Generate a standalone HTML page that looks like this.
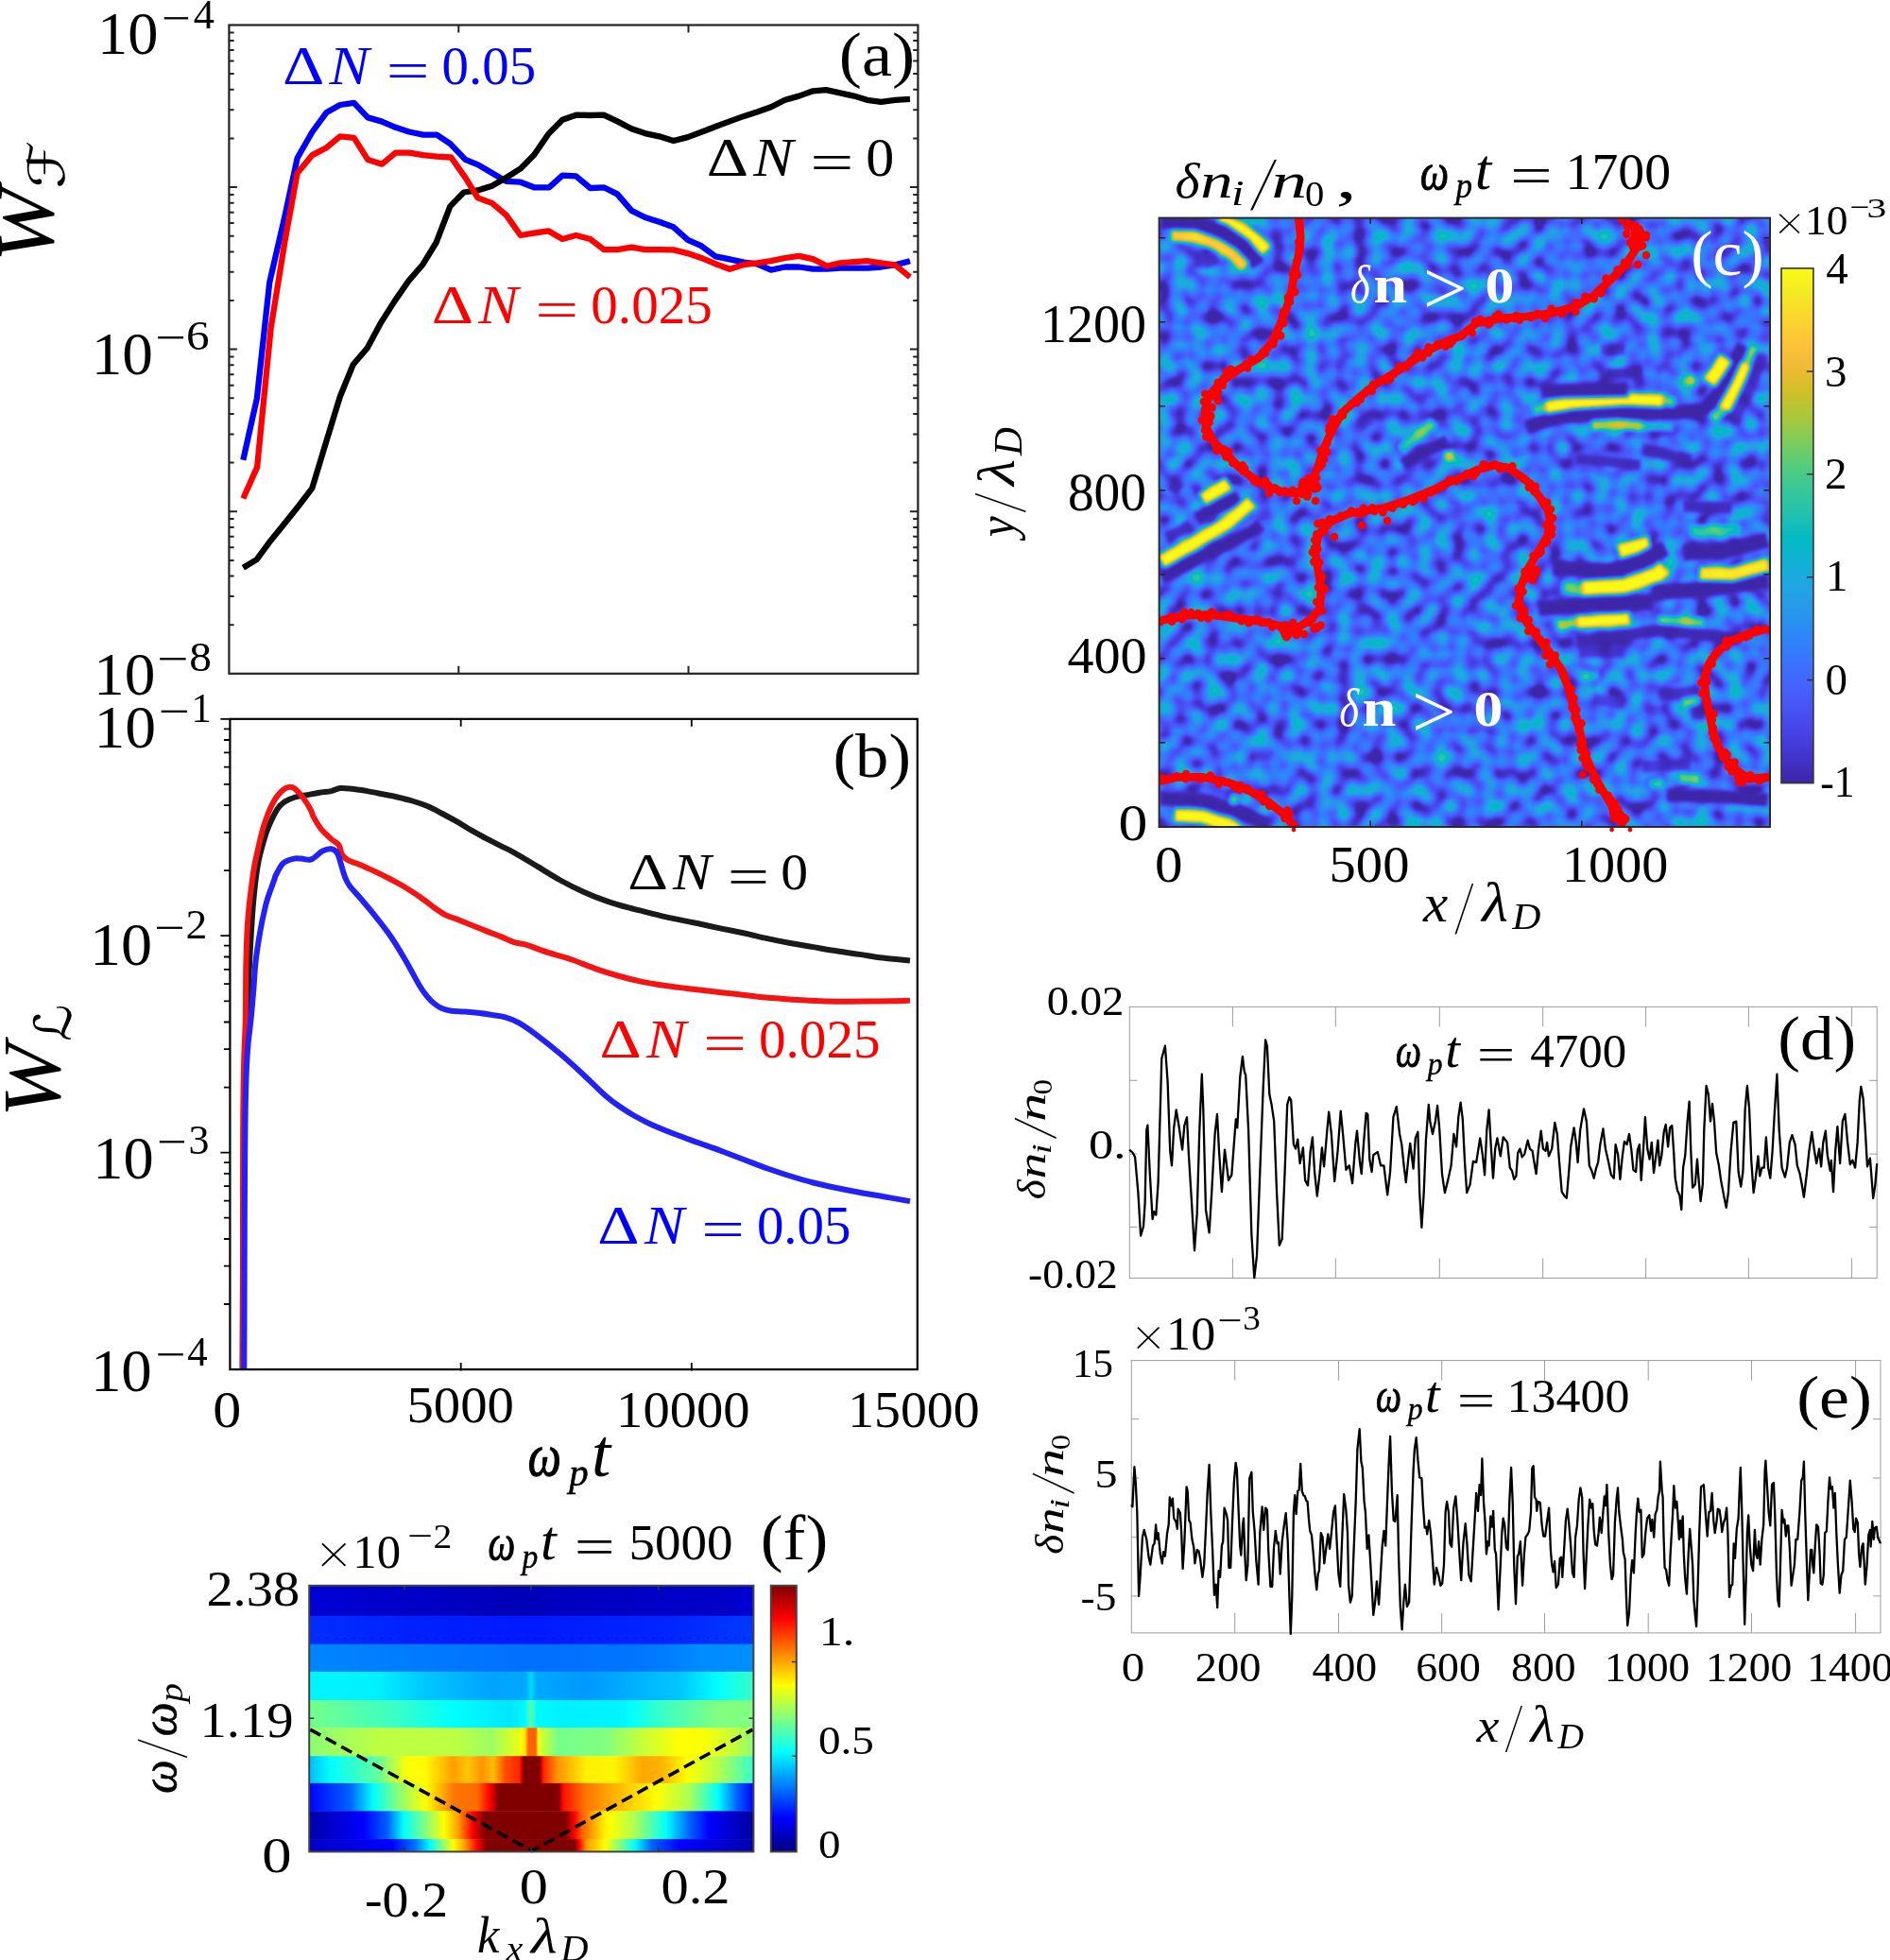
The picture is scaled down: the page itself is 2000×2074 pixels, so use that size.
<!DOCTYPE html>
<html><head><meta charset="utf-8"><title>Figure</title>
<style>
html,body{margin:0;padding:0;background:#fff}
svg{display:block}
text{font-family:"Liberation Serif","DejaVu Serif",serif;font-kerning:none}
.i{font-style:italic}.b{font-weight:bold}.bi{font-weight:bold;font-style:italic}
.dv{font-family:"DejaVu Sans","Liberation Sans",sans-serif}
.ln{fill:none;stroke-linejoin:round;stroke-linecap:butt}
</style></head><body>
<svg xmlns="http://www.w3.org/2000/svg" width="2000" height="2074" viewBox="0 0 2000 2074">
<rect width="2000" height="2074" fill="#fff"/>

<g id="panel-a">
<polyline class="ln" stroke-linejoin="miter" stroke="#0000ff" stroke-width="6.3" points="257.3,486.8 271.9,421.4 285.2,299.0 301.3,229.2 314.6,167.3 330.5,139.5 345.6,118.9 359.8,111.0 374.6,108.9 389.2,124.4 403.5,128.4 418.6,134.8 432.9,139.5 447.9,142.7 462.2,142.7 476.5,152.2 492.4,168.9 505.9,174.4 521.0,183.2 535.7,191.9 550.8,192.7 565.1,198.3 581.0,198.3 595.2,185.6 609.5,186.3 624.6,199.0 638.9,198.3 653.2,205.4 668.3,222.9 682.5,230.0 697.6,234.8 712.7,240.3 727.8,253.8 742.1,260.2 757.1,271.3 772.2,274.4 787.3,277.6 801.1,279.4 815.9,285.7 830.7,282.5 845.5,282.5 860.3,284.7 875.1,284.7 888.9,283.6 903.7,283.6 918.5,283.6 932.3,282.5 947.1,280.4 963.0,276.2"/>
<polyline class="ln" stroke-linejoin="miter" stroke="#000" stroke-width="6.3" points="257.3,600.8 271.6,592.1 286.3,572.2 301.1,554.0 315.7,535.7 330.3,516.7 344.9,468.3 359.8,419.8 373.7,385.7 388.7,368.3 403.3,341.1 417.9,318.1 432.5,297.1 447.1,280.3 461.7,256.5 476.3,218.4 490.8,203.5 505.4,201.4 520.6,196.7 535.7,188.0 550.8,178.4 565.1,164.1 580.2,141.9 595.2,126.8 610.3,121.6 624.0,122.0 638.9,121.6 653.2,128.4 668.3,136.3 682.5,141.1 697.6,144.3 712.7,149.0 727.8,145.1 742.9,139.5 757.1,134.0 772.2,128.4 787.3,122.9 801.1,118.5 815.9,113.2 830.7,105.8 845.5,101.6 860.3,96.3 874.1,95.2 888.9,98.4 903.7,101.6 917.5,105.8 932.3,107.9 947.1,105.8 963.0,104.8"/>
<polyline class="ln" stroke-linejoin="miter" stroke="#ff0000" stroke-width="6.3" points="257.3,527.5 272.1,494.4 286.7,346.7 301.3,256.2 314.6,183.2 330.5,164.1 345.6,156.2 359.8,144.3 374.6,145.9 389.2,168.9 404.3,173.7 418.6,161.7 432.9,161.7 447.9,164.1 462.2,165.7 477.3,166.5 492.4,187.9 505.6,209.4 520.6,214.9 535.7,227.6 550.8,249.0 565.1,246.7 580.2,244.3 595.2,253.0 609.5,249.0 624.6,253.0 638.9,264.1 653.2,264.1 668.3,261.7 682.5,264.1 697.6,264.1 712.7,264.4 727.8,268.1 742.1,272.9 757.1,279.2 772.2,284.8 787.3,280.0 801.1,278.3 815.9,276.2 830.7,273.0 845.5,270.9 860.3,274.1 875.1,281.5 888.9,278.3 903.7,277.2 917.5,276.2 932.3,278.3 947.1,280.4 963.0,293.1"/>
<path d="M242.4 661.2h5.2M971.4 661.2h-5.2M242.4 630.9h5.2M971.4 630.9h-5.2M242.4 609.5h5.2M971.4 609.5h-5.2M242.4 592.9h5.2M971.4 592.9h-5.2M242.4 579.3h5.2M971.4 579.3h-5.2M242.4 567.8h5.2M971.4 567.8h-5.2M242.4 557.9h5.2M971.4 557.9h-5.2M242.4 549.1h5.2M971.4 549.1h-5.2M242.4 541.2h8.5M971.4 541.2h-8.5M242.4 489.6h5.2M971.4 489.6h-5.2M242.4 459.4h5.2M971.4 459.4h-5.2M242.4 437.9h5.2M971.4 437.9h-5.2M242.4 421.3h5.2M971.4 421.3h-5.2M242.4 407.7h5.2M971.4 407.7h-5.2M242.4 396.2h5.2M971.4 396.2h-5.2M242.4 386.3h5.2M971.4 386.3h-5.2M242.4 377.5h5.2M971.4 377.5h-5.2M242.4 369.6h8.5M971.4 369.6h-8.5M242.4 318.0h5.2M971.4 318.0h-5.2M242.4 287.8h5.2M971.4 287.8h-5.2M242.4 266.4h5.2M971.4 266.4h-5.2M242.4 249.7h5.2M971.4 249.7h-5.2M242.4 236.1h5.2M971.4 236.1h-5.2M242.4 224.7h5.2M971.4 224.7h-5.2M242.4 214.7h5.2M971.4 214.7h-5.2M242.4 205.9h5.2M971.4 205.9h-5.2M242.4 198.1h8.5M971.4 198.1h-8.5M242.4 146.4h5.2M971.4 146.4h-5.2M242.4 116.2h5.2M971.4 116.2h-5.2M242.4 94.8h5.2M971.4 94.8h-5.2M242.4 78.1h5.2M971.4 78.1h-5.2M242.4 64.6h5.2M971.4 64.6h-5.2M242.4 53.1h5.2M971.4 53.1h-5.2M242.4 43.1h5.2M971.4 43.1h-5.2M242.4 34.4h5.2M971.4 34.4h-5.2M485.3 26.5v8M485.3 712.8v-8M728.5 26.5v8M728.5 712.8v-8" stroke="#222" stroke-width="2" fill="none"/>
<rect x="242.4" y="26.5" width="729.0" height="686.3" fill="none" stroke="#222" stroke-width="2.2"/>
</g>
<g id="panel-b">
<clipPath id="cb"><rect x="243.4" y="760.8" width="727.4" height="688.3"/></clipPath>
<g clip-path="url(#cb)">
<path class="ln" stroke="#1a1a1a" stroke-width="6" d="M256.5 1449.0C256.6 1424.2 256.9 1349.8 257.2 1300.0C257.5 1250.2 257.8 1186.7 258.5 1150.0C259.2 1113.3 260.8 1102.0 261.7 1080.0C262.6 1058.0 263.0 1039.0 264.1 1018.1C265.2 997.2 266.6 971.8 268.1 954.6C269.6 937.4 271.0 925.8 272.9 914.9C274.8 904.0 277.3 896.1 279.2 889.5C281.1 882.9 281.6 880.8 284.0 875.2C286.4 869.7 290.6 860.7 293.5 856.2C296.4 851.7 298.2 850.4 301.4 848.3C304.6 846.2 308.5 844.7 312.5 843.5C316.5 842.3 321.0 841.9 325.2 841.1C329.4 840.3 333.7 839.4 337.9 838.7C342.1 838.0 346.9 837.9 350.6 837.1C354.3 836.3 356.5 834.4 360.2 834.0C363.9 833.6 368.1 834.3 372.9 834.8C377.6 835.3 383.4 836.2 388.7 837.1C394.0 838.0 399.3 839.2 404.6 840.3C409.9 841.4 415.2 842.3 420.5 843.5C425.8 844.7 431.0 845.9 436.3 847.5C441.6 849.1 446.9 850.8 452.2 853.0C457.5 855.2 462.8 858.2 468.1 861.0C473.4 863.8 478.7 866.7 484.0 869.7C489.3 872.7 494.5 876.2 499.8 879.2C505.1 882.2 510.7 885.2 515.7 887.9C520.7 890.5 525.2 892.7 530.0 895.1C534.8 897.5 537.8 898.7 544.3 902.3C550.8 905.9 560.6 912.0 568.7 916.9C576.8 921.8 584.9 927.0 593.0 931.5C601.1 936.0 609.3 940.1 617.4 943.7C625.5 947.4 633.6 950.6 641.7 953.4C649.8 956.2 657.9 958.5 666.0 960.7C674.1 962.9 682.3 964.8 690.4 966.8C698.5 968.8 706.6 970.6 714.7 972.4C722.8 974.1 730.9 975.6 739.0 977.3C747.1 979.0 755.3 980.9 763.4 982.6C771.5 984.3 779.6 985.8 787.7 987.5C795.8 989.2 804.0 991.4 812.1 993.1C820.2 994.9 828.3 996.5 836.4 998.0C844.5 999.5 852.6 1000.7 860.7 1002.1C868.8 1003.5 877.0 1005.0 885.1 1006.3C893.2 1007.6 901.3 1008.7 909.4 1009.9C917.5 1011.1 924.9 1012.5 933.8 1013.6C942.7 1014.7 958.1 1015.9 963.0 1016.4"/>
<path class="ln" stroke="#f51414" stroke-width="6" d="M257.1 1449.0C257.1 1410.7 257.0 1268.8 257.1 1219.0C257.2 1169.2 257.4 1168.3 257.6 1150.0C257.9 1131.7 258.2 1120.7 258.6 1109.0C259.0 1097.3 259.5 1095.2 259.8 1080.0C260.1 1064.8 259.9 1036.3 260.4 1018.1C260.8 999.9 261.2 986.4 262.5 970.5C263.8 954.6 266.4 934.8 268.1 922.9C269.8 911.0 271.0 907.2 272.9 899.0C274.8 890.8 276.6 881.9 279.2 873.7C281.8 865.5 285.3 856.1 288.7 849.8C292.1 843.4 296.4 838.4 299.8 835.6C303.2 832.8 306.2 832.2 309.4 833.2C312.6 834.2 315.7 838.1 318.9 841.9C322.1 845.7 326.3 852.5 328.4 856.2C330.5 859.9 329.8 860.7 331.6 864.1C333.5 867.5 336.3 872.8 339.5 876.8C342.7 880.8 347.4 885.0 350.6 887.9C353.8 890.8 356.8 891.6 358.6 894.3C360.5 896.9 360.1 901.1 361.7 903.8C363.3 906.4 364.9 908.4 368.1 910.2C371.3 912.1 376.0 912.9 380.8 914.9C385.6 916.9 391.4 919.6 396.7 922.1C402.0 924.6 407.2 927.2 412.5 930.0C417.8 932.8 423.1 935.5 428.4 938.7C433.7 941.9 439.0 945.3 444.3 949.0C449.6 952.7 455.7 957.8 460.2 961.0C464.7 964.2 467.3 966.1 471.3 968.1C475.3 970.1 479.2 971.0 484.0 972.9C488.8 974.8 494.5 977.1 499.8 979.2C505.1 981.3 510.7 983.6 515.7 985.6C520.7 987.6 525.2 989.2 530.0 991.1C534.8 993.0 539.9 995.8 544.3 997.2C548.7 998.6 550.4 997.9 556.5 999.7C562.6 1001.5 572.7 1005.6 580.8 1008.2C588.9 1010.8 597.1 1012.7 605.2 1015.5C613.3 1018.3 621.4 1022.0 629.5 1024.8C637.6 1027.6 645.8 1030.2 653.9 1032.5C662.0 1034.8 670.1 1036.9 678.2 1038.6C686.3 1040.3 694.4 1041.6 702.5 1042.8C710.6 1044.0 718.8 1044.9 726.9 1045.9C735.0 1046.9 743.1 1047.9 751.2 1048.8C759.3 1049.7 767.5 1050.6 775.6 1051.5C783.7 1052.4 791.8 1053.6 799.9 1054.4C808.0 1055.2 816.1 1055.8 824.2 1056.4C832.3 1057.1 840.5 1057.8 848.6 1058.3C856.7 1058.8 864.8 1059.3 872.9 1059.6C881.0 1059.8 889.2 1059.8 897.3 1059.8C905.4 1059.8 913.5 1059.7 921.6 1059.6C929.7 1059.5 939.0 1059.4 945.9 1059.3C952.8 1059.2 960.1 1058.9 963.0 1058.8"/>
<path class="ln" stroke="#2222f8" stroke-width="6" d="M258.3 1449.0C258.4 1424.2 258.7 1338.3 258.8 1300.0C258.9 1261.7 259.0 1244.0 259.2 1219.0C259.4 1194.0 259.7 1168.3 260.2 1150.0C260.7 1131.7 261.3 1120.7 262.2 1109.0C263.1 1097.3 264.4 1089.9 265.4 1080.0C266.4 1070.1 267.2 1060.1 268.1 1049.8C269.0 1039.5 269.3 1028.7 270.5 1018.1C271.7 1007.5 273.5 996.1 275.2 986.3C276.9 976.5 279.3 965.7 280.8 959.4C282.3 953.1 282.4 953.1 284.0 948.3C285.6 943.5 289.0 934.5 290.3 930.8C291.6 927.1 290.3 928.9 291.9 926.0C293.5 923.1 296.6 916.2 299.8 913.3C303.0 910.4 307.8 909.4 311.0 908.6C314.2 907.8 315.9 908.5 318.9 908.6C321.9 908.7 325.5 910.7 329.2 909.4C332.9 908.1 337.5 902.5 341.1 900.6C344.7 898.8 348.0 897.9 350.6 898.3C353.2 898.7 355.3 900.2 357.0 903.0C358.7 905.8 359.7 910.8 361.0 914.9C362.3 919.0 363.4 923.9 364.9 927.6C366.3 931.3 367.0 933.4 369.7 937.1C372.4 940.8 376.3 944.5 380.8 949.8C385.3 955.1 391.4 962.3 396.7 968.9C402.0 975.5 407.2 981.8 412.5 989.5C417.8 997.2 423.1 1005.9 428.4 1014.9C433.7 1023.9 440.3 1036.9 444.3 1043.5C448.3 1050.1 449.6 1051.4 452.2 1054.6C454.8 1057.8 457.5 1060.4 460.2 1062.5C462.9 1064.6 465.2 1066.1 468.1 1067.3C471.0 1068.5 473.6 1069.2 477.6 1069.7C481.6 1070.2 486.9 1070.1 491.9 1070.5C496.9 1070.9 503.1 1071.5 507.8 1072.1C512.5 1072.7 515.5 1073.2 520.0 1073.9C524.5 1074.6 529.7 1074.9 534.6 1076.3C539.5 1077.7 543.5 1079.2 549.2 1082.4C554.9 1085.7 561.4 1090.3 568.7 1095.8C576.0 1101.3 584.9 1108.4 593.0 1115.3C601.1 1122.2 609.3 1129.7 617.4 1137.2C625.5 1144.7 635.2 1154.6 641.7 1160.3C648.2 1166.0 651.4 1167.9 656.3 1171.3C661.2 1174.7 665.2 1177.3 670.9 1180.5C676.6 1183.7 683.1 1187.2 690.4 1190.5C697.7 1193.8 706.6 1197.2 714.7 1200.3C722.8 1203.4 730.9 1206.3 739.0 1209.3C747.1 1212.2 755.3 1215.0 763.4 1218.0C771.5 1221.0 779.6 1224.1 787.7 1227.2C795.8 1230.3 804.0 1233.6 812.1 1236.5C820.2 1239.4 828.3 1242.0 836.4 1244.5C844.5 1247.0 852.6 1249.4 860.7 1251.5C868.8 1253.6 877.0 1255.3 885.1 1257.0C893.2 1258.7 901.3 1260.3 909.4 1261.8C917.5 1263.3 924.9 1264.5 933.8 1266.0C942.7 1267.5 958.1 1270.2 963.0 1271.1"/>
</g>
<path d="M243.4 1380.0h-6.5M243.4 1339.6h-6.5M243.4 1311.0h-6.5M243.4 1288.7h-6.5M243.4 1270.6h-6.5M243.4 1255.2h-6.5M243.4 1241.9h-6.5M243.4 1230.2h-6.5M243.4 1219.7h-10M243.4 1150.6h-6.5M243.4 1110.2h-6.5M243.4 1081.5h-6.5M243.4 1059.3h-6.5M243.4 1041.1h-6.5M243.4 1025.8h-6.5M243.4 1012.5h-6.5M243.4 1000.7h-6.5M243.4 990.2h-10M243.4 921.2h-6.5M243.4 880.8h-6.5M243.4 852.1h-6.5M243.4 829.9h-6.5M243.4 811.7h-6.5M243.4 796.3h-6.5M243.4 783.0h-6.5M243.4 771.3h-6.5M243.4 760.8h-10M487.7 760.8v8M487.7 1450.6v-8.5M731.8 760.8v8M731.8 1450.6v-8.5" stroke="#000" stroke-width="1.8" fill="none"/>
<rect x="243.4" y="760.8" width="727.4" height="688.3" fill="none" stroke="#000" stroke-width="2.2"/>
</g>
<defs>
<filter id="par" x="1226.6" y="230.6" width="646.4" height="644.4" filterUnits="userSpaceOnUse" color-interpolation-filters="sRGB">
<feGaussianBlur in="SourceGraphic" stdDeviation="1.9" result="src"/>
<feTurbulence type="fractalNoise" baseFrequency="0.058" numOctaves="1" seed="11" result="n"/>
<feColorMatrix in="n" type="matrix" values="0.98 0 0 0 -0.27 0.98 0 0 0 -0.27 0.98 0 0 0 -0.27 0 0 0 0 1" result="ng"/>
<feComposite in="src" in2="ng" operator="over" result="sum"/>
<feComponentTransfer in="sum">
<feFuncR type="table" tableValues="0.242 0.250 0.258 0.265 0.271 0.275 0.278 0.280 0.281 0.281 0.280 0.276 0.270 0.260 0.244 0.221 0.196 0.183 0.179 0.176 0.169 0.154 0.146 0.138 0.125 0.111 0.095 0.069 0.030 0.004 0.007 0.043 0.096 0.141 0.172 0.194 0.216 0.247 0.291 0.341 0.391 0.446 0.504 0.562 0.617 0.672 0.724 0.774 0.820 0.863 0.903 0.939 0.973 0.996 0.997 0.995 0.989 0.979 0.968 0.961 0.960 0.963 0.969 0.977"/>
<feFuncG type="table" tableValues="0.150 0.165 0.182 0.198 0.215 0.234 0.256 0.278 0.301 0.323 0.345 0.367 0.389 0.412 0.436 0.460 0.485 0.507 0.529 0.550 0.570 0.590 0.609 0.628 0.646 0.663 0.680 0.695 0.708 0.720 0.731 0.741 0.750 0.758 0.767 0.776 0.784 0.792 0.797 0.801 0.803 0.802 0.799 0.794 0.788 0.779 0.770 0.760 0.750 0.741 0.733 0.729 0.730 0.743 0.766 0.789 0.814 0.839 0.864 0.889 0.913 0.937 0.961 0.984"/>
<feFuncB type="table" tableValues="0.660 0.708 0.751 0.795 0.836 0.871 0.899 0.922 0.941 0.958 0.972 0.983 0.991 0.995 0.999 0.997 0.989 0.980 0.968 0.952 0.936 0.922 0.908 0.897 0.888 0.876 0.860 0.839 0.816 0.792 0.766 0.739 0.712 0.684 0.655 0.625 0.592 0.557 0.519 0.479 0.435 0.391 0.348 0.304 0.261 0.223 0.191 0.165 0.153 0.160 0.177 0.210 0.239 0.237 0.220 0.203 0.189 0.177 0.164 0.154 0.142 0.127 0.106 0.081"/>
</feComponentTransfer></filter>
<linearGradient id="cbc" x1="0" y1="1" x2="0" y2="0">
<stop offset="0.0000" stop-color="#3e26a8"/>
<stop offset="0.0476" stop-color="#4332cb"/>
<stop offset="0.0952" stop-color="#4741e5"/>
<stop offset="0.1429" stop-color="#4852f4"/>
<stop offset="0.1905" stop-color="#4563fd"/>
<stop offset="0.2381" stop-color="#3875fe"/>
<stop offset="0.2857" stop-color="#2e87f7"/>
<stop offset="0.3333" stop-color="#2797eb"/>
<stop offset="0.3810" stop-color="#20a5e3"/>
<stop offset="0.4286" stop-color="#12b1d6"/>
<stop offset="0.4762" stop-color="#02bac3"/>
<stop offset="0.5238" stop-color="#24c1ae"/>
<stop offset="0.5714" stop-color="#37c897"/>
<stop offset="0.6190" stop-color="#57cc7a"/>
<stop offset="0.6667" stop-color="#81cc59"/>
<stop offset="0.7143" stop-color="#abc739"/>
<stop offset="0.7619" stop-color="#d1bf27"/>
<stop offset="0.8095" stop-color="#f0ba36"/>
<stop offset="0.8571" stop-color="#fec338"/>
<stop offset="0.9048" stop-color="#fad62d"/>
<stop offset="0.9524" stop-color="#f5e924"/>
<stop offset="1.0000" stop-color="#f9fb15"/>
<stop offset="1" stop-color="#f9fb15"/>
</linearGradient>
<clipPath id="cc"><rect x="1226.6" y="230.6" width="646.4" height="644.4"/></clipPath>
</defs>
<g id="panel-c">
<g filter="url(#par)">
<polyline class="ln" stroke-linecap="round" stroke="#fff" stroke-width="13.2" opacity="1" points="1289.8,232.0 1310.8,240.7 1328.3,252.9 1340.5,265.2"/>
<polyline class="ln" stroke-linecap="round" stroke="#000" stroke-width="16.2" opacity="1" points="1227.0,234.6 1263.7,235.5 1293.3,244.2 1316.0,259.9 1331.8,280.9"/>
<polyline class="ln" stroke-linecap="round" stroke="#fff" stroke-width="12.2" opacity="0.85" points="1239.2,249.4 1263.7,250.3 1286.4,258.2 1303.8,268.7 1317.8,282.6"/>
<polyline class="ln" stroke-linecap="round" stroke="#000" stroke-width="14.2" opacity="0.8" points="1263.7,275.6 1277.6,277.4 1289.8,272.1"/>
<polyline class="ln" stroke-linecap="round" stroke="#000" stroke-width="15.2" opacity="1" points="1483.7,492.2 1508.1,477.3 1532.6,466.8"/>
<polyline class="ln" stroke-linecap="round" stroke="#fff" stroke-width="10.2" opacity="0.5" points="1481.9,476.4 1502.9,459.0 1516.8,446.8"/>
<polyline class="ln" stroke-linecap="round" stroke="#fff" stroke-width="10.2" opacity="0.75" points="1528.2,483.1 1538.7,481.7"/>
<polyline class="ln" stroke-linecap="round" stroke="#000" stroke-width="12.2" opacity="0.7" points="1438.3,450.2 1452.2,443.3"/>
<polyline class="ln" stroke-linecap="round" stroke="#fff" stroke-width="14.2" opacity="1" points="1272.4,528.8 1286.4,520.1 1300.3,511.4"/>
<polyline class="ln" stroke-linecap="round" stroke="#000" stroke-width="16.2" opacity="1" points="1265.4,549.8 1289.8,535.8 1312.5,525.3"/>
<polyline class="ln" stroke-linecap="round" stroke="#fff" stroke-width="14.2" opacity="1" points="1228.7,594.5 1263.7,574.4 1298.6,553.5 1324.8,530.8"/>
<polyline class="ln" stroke-linecap="round" stroke="#000" stroke-width="15.2" opacity="1" points="1228.7,611.1 1272.4,588.4 1324.8,562.2 1335.2,555.2"/>
<polyline class="ln" stroke-linecap="round" stroke="#000" stroke-width="13.2" opacity="0.9" points="1234.0,569.2 1247.9,562.2 1260.2,555.2"/>
<polyline class="ln" stroke-linecap="round" stroke="#000" stroke-width="14.2" opacity="0.9" points="1237.5,511.4 1249.7,518.3"/>
<polyline class="ln" stroke-linecap="round" stroke="#000" stroke-width="16.2" opacity="1" points="1227.0,845.1 1272.4,846.8 1307.3,857.3 1342.2,873.0"/>
<polyline class="ln" stroke-linecap="round" stroke="#fff" stroke-width="14.2" opacity="1" points="1242.7,862.6 1272.4,864.3 1298.6,873.0 1310.8,880.0"/>
<polyline class="ln" stroke-linecap="round" stroke="#fff" stroke-width="10.2" opacity="0.6" points="1302.1,845.1 1309.1,846.8"/>
<polyline class="ln" stroke-linecap="round" stroke="#000" stroke-width="16.2" opacity="1" points="1614.8,452.0 1649.8,441.5 1702.2,437.2 1772.0,437.2 1803.4,432.8 1817.4,417.1 1831.4,390.9 1845.3,364.7"/>
<polyline class="ln" stroke-linecap="round" stroke="#fff" stroke-width="13.2" opacity="1" points="1635.8,431.0 1667.2,425.8 1719.6,422.3 1759.8,424.1"/>
<polyline class="ln" stroke-linecap="round" stroke="#fff" stroke-width="10.2" opacity="0.5" points="1621.8,434.5 1635.8,431.0"/>
<polyline class="ln" stroke-linecap="round" stroke="#fff" stroke-width="10.2" opacity="0.5" points="1759.8,424.1 1772.0,425.8"/>
<polyline class="ln" stroke-linecap="round" stroke="#000" stroke-width="16.2" opacity="1" points="1630.6,413.6 1723.1,411.8"/>
<polyline class="ln" stroke-linecap="round" stroke="#fff" stroke-width="10.2" opacity="0.7" points="1684.7,450.2 1710.9,448.5 1737.1,451.1"/>
<polyline class="ln" stroke-linecap="round" stroke="#fff" stroke-width="8.2" opacity="0.4" points="1737.1,451.1 1770.2,452.0"/>
<polyline class="ln" stroke-linecap="round" stroke="#fff" stroke-width="15.2" opacity="1" points="1808.7,404.8 1817.4,392.6 1826.1,378.7"/>
<polyline class="ln" stroke-linecap="round" stroke="#fff" stroke-width="13.2" opacity="1" points="1824.4,432.8 1838.3,408.3 1848.8,385.6"/>
<polyline class="ln" stroke-linecap="round" stroke="#fff" stroke-width="10.2" opacity="0.6" points="1812.2,443.3 1824.4,432.8"/>
<polyline class="ln" stroke-linecap="round" stroke="#fff" stroke-width="10.2" opacity="0.6" points="1848.8,385.6 1855.8,368.2"/>
<polyline class="ln" stroke-linecap="round" stroke="#fff" stroke-width="9.2" opacity="0.6" points="1786.0,404.8 1792.9,399.6"/>
<polyline class="ln" stroke-linecap="round" stroke="#000" stroke-width="14.2" opacity="0.8" points="1833.1,448.5 1855.8,399.6 1864.5,373.4"/>
<polyline class="ln" stroke-linecap="round" stroke="#000" stroke-width="13.2" opacity="0.9" points="1698.7,396.1 1737.1,394.4"/>
<polyline class="ln" stroke-linecap="round" stroke="#000" stroke-width="13.2" opacity="0.9" points="1667.2,485.2 1737.1,492.2"/>
<polyline class="ln" stroke-linecap="round" stroke="#000" stroke-width="13.2" opacity="0.9" points="1737.1,474.7 1789.5,486.9"/>
<polyline class="ln" stroke-linecap="round" stroke="#000" stroke-width="13.2" opacity="0.9" points="1780.7,535.8 1833.1,537.6"/>
<polyline class="ln" stroke-linecap="round" stroke="#000" stroke-width="12.2" opacity="0.7" points="1693.4,369.9 1719.6,369.9"/>
<polyline class="ln" stroke-linecap="round" stroke="#fff" stroke-width="16.2" opacity="1" points="1712.6,584.0 1745.8,575.3"/>
<polyline class="ln" stroke-linecap="round" stroke="#000" stroke-width="18.2" opacity="1" points="1642.8,600.6 1702.2,604.1 1737.1,593.7 1763.3,579.7"/>
<polyline class="ln" stroke-linecap="round" stroke="#fff" stroke-width="16.2" opacity="1" points="1674.2,622.5 1719.6,619.8 1754.5,607.6 1761.5,600.6"/>
<polyline class="ln" stroke-linecap="round" stroke="#fff" stroke-width="12.2" opacity="0.45" points="1653.3,621.6 1674.2,622.5"/>
<polyline class="ln" stroke-linecap="round" stroke="#000" stroke-width="18.2" opacity="1" points="1627.1,644.3 1684.7,639.1 1749.3,637.3"/>
<polyline class="ln" stroke-linecap="round" stroke="#000" stroke-width="18.2" opacity="1" points="1749.3,626.8 1806.9,623.3 1871.5,614.6"/>
<polyline class="ln" stroke-linecap="round" stroke="#fff" stroke-width="13.2" opacity="1" points="1669.0,658.3 1724.8,654.8"/>
<polyline class="ln" stroke-linecap="round" stroke="#fff" stroke-width="10.2" opacity="0.6" points="1648.0,661.8 1669.0,658.3"/>
<polyline class="ln" stroke-linecap="round" stroke="#fff" stroke-width="9.2" opacity="0.55" points="1754.5,656.5 1803.4,658.3"/>
<polyline class="ln" stroke-linecap="round" stroke="#000" stroke-width="14.2" opacity="0.95" points="1667.2,677.5 1719.6,672.2 1754.5,667.0 1806.9,672.2 1841.8,675.7"/>
<polyline class="ln" stroke-linecap="round" stroke="#fff" stroke-width="14.2" opacity="0.95" points="1798.2,606.7 1833.1,607.6 1871.5,597.1"/>
<polyline class="ln" stroke-linecap="round" stroke="#000" stroke-width="18.2" opacity="1" points="1780.7,584.9 1824.4,583.2 1871.5,571.0"/>
<polyline class="ln" stroke-linecap="round" stroke="#fff" stroke-width="12.2" opacity="0.35" points="1789.5,562.2 1841.8,562.2"/>
<polyline class="ln" stroke-linecap="round" stroke="#000" stroke-width="14.2" opacity="0.8" points="1670.7,689.7 1719.6,689.7"/>
<polyline class="ln" stroke-linecap="round" stroke="#000" stroke-width="15.2" opacity="1" points="1763.3,841.6 1824.4,843.3 1871.5,846.8"/>
<polyline class="ln" stroke-linecap="round" stroke="#fff" stroke-width="10.2" opacity="0.6" points="1777.2,824.1 1798.2,824.1"/>
<polyline class="ln" stroke-linecap="round" stroke="#fff" stroke-width="9.2" opacity="0.45" points="1745.8,829.4 1759.8,828.5"/>
<polyline class="ln" stroke-linecap="round" stroke="#000" stroke-width="13.2" opacity="0.8" points="1754.5,735.1 1798.2,731.6"/>
<polyline class="ln" stroke-linecap="round" stroke="#fff" stroke-width="9.2" opacity="0.5" points="1780.7,743.8 1798.2,740.3"/>
<polyline class="ln" stroke-linecap="round" stroke="#000" stroke-width="13.2" opacity="0.8" points="1789.5,756.0 1803.4,754.3"/>
<polyline class="ln" stroke-linecap="round" stroke="#000" stroke-width="13.2" opacity="0.7" points="1684.7,738.6 1719.6,745.6"/>
<polyline class="ln" stroke-linecap="round" stroke="#000" stroke-width="13.2" opacity="0.8" points="1737.1,811.9 1789.5,808.4"/>
<polyline class="ln" stroke-linecap="round" stroke="#fff" stroke-width="9.2" opacity="0.45" points="1674.2,715.9 1691.7,715.0"/>
</g>
<g clip-path="url(#cc)">
<polyline class="ln" stroke-linecap="round" stroke="#ff0000" stroke-width="8.6" points="1374.5,232.0 1376.3,251.2 1374.5,268.7 1370.2,286.1 1366.7,307.1 1361.4,326.3 1354.5,343.7 1345.7,362.9 1331.8,378.7 1310.8,390.9 1293.3,403.1 1279.4,418.8 1275.0,434.5 1275.9,450.2 1282.9,466.0 1296.8,479.9 1312.5,495.6 1328.3,507.9 1342.2,514.9 1356.2,520.1 1368.4,521.8 1382.4,518.4 1387.6,511.4 1394.6,493.9 1401.6,472.9 1410.3,453.7 1420.8,436.3 1438.3,420.6 1455.7,406.6 1473.2,396.1 1492.4,383.9 1513.4,369.9 1534.3,359.5 1545.0,356.0 1562.5,342.0 1588.7,336.7 1614.8,335.0 1641.0,331.5 1667.2,324.5 1684.7,314.1 1702.1,298.3 1719.6,280.9 1730.1,265.2 1735.3,254.7 1733.0,246.0 1726.0,238.0 1719.6,235.5"/>
<path d="M1374.1 233.8h0M1375.4 239.6h0M1375.0 240.8h0M1374.1 256.0h0M1375.8 263.6h0M1375.2 265.7h0M1372.5 275.9h0M1371.9 276.4h0M1371.3 286.1h0M1373.1 291.1h0M1367.8 290.3h0M1368.5 296.4h0M1370.4 309.1h0M1362.7 314.7h0M1364.5 320.0h0M1365.1 319.4h0M1358.0 329.8h0M1357.3 334.8h0M1358.3 342.1h0M1354.3 344.0h0M1355.4 355.2h0M1348.4 360.3h0M1349.4 357.0h0M1347.6 364.4h0M1338.9 373.7h0M1336.5 372.2h0M1335.0 376.5h0M1330.8 379.2h0M1324.1 380.4h0M1320.2 389.6h0M1318.9 385.0h0M1312.8 389.9h0M1302.6 390.7h0M1297.6 393.1h0M1294.6 400.3h0M1294.1 407.8h0M1288.6 404.7h0M1289.1 415.0h0M1285.0 419.6h0M1275.1 416.6h0M1273.8 424.9h0M1279.7 430.8h0M1277.5 438.4h0M1271.8 444.8h0M1279.8 447.1h0M1275.0 455.2h0M1276.1 462.3h0M1280.5 463.9h0M1286.1 470.4h0M1287.2 476.8h0M1295.7 475.4h0M1300.4 477.9h0M1297.2 483.5h0M1304.4 490.0h0M1315.1 498.6h0M1314.9 492.1h0M1317.3 495.6h0M1326.9 506.0h0M1327.1 509.3h0M1330.2 510.9h0M1339.2 508.7h0M1342.0 513.0h0M1349.2 516.1h0M1353.9 521.0h0M1359.5 519.4h0M1371.4 522.9h0M1367.7 518.7h0M1384.2 522.8h0M1387.2 513.6h0M1386.1 507.3h0M1393.3 505.6h0M1396.9 494.3h0M1399.0 491.6h0M1401.3 486.1h0M1397.3 476.4h0M1404.3 478.2h0M1404.4 469.4h0M1404.8 465.6h0M1406.3 455.9h0M1406.6 451.8h0M1408.9 449.0h0M1410.0 443.5h0M1414.7 443.6h0M1421.3 439.5h0M1419.5 436.9h0M1430.5 427.2h0M1435.9 426.0h0M1438.8 421.9h0M1439.9 422.6h0M1447.2 412.7h0M1450.0 412.5h0M1451.7 414.0h0M1453.0 406.8h0M1457.9 405.1h0M1468.6 402.4h0M1471.1 401.6h0M1475.5 395.8h0M1480.2 387.9h0M1488.0 388.5h0M1493.0 381.7h0M1493.5 381.4h0M1496.5 378.8h0M1500.0 372.9h0M1505.3 378.6h0M1511.7 373.5h0M1511.5 367.3h0M1521.6 363.9h0M1529.8 366.8h0M1534.6 364.1h0M1537.0 361.0h0M1542.0 356.8h0M1546.3 356.1h0M1548.3 354.2h0M1557.9 352.4h0M1560.8 340.3h0M1566.4 337.7h0M1575.1 343.6h0M1576.2 342.9h0M1582.7 334.8h0M1585.6 332.5h0M1595.1 338.1h0M1594.1 338.3h0M1602.1 337.0h0M1604.4 334.0h0M1608.0 338.9h0M1619.7 336.0h0M1627.0 332.0h0M1628.1 332.4h0M1635.0 336.8h0M1636.6 333.9h0M1641.5 326.8h0M1643.6 329.3h0M1652.8 332.2h0M1665.8 327.2h0M1667.3 329.7h0M1667.2 320.4h0M1669.8 320.8h0M1677.6 313.8h0M1678.4 315.5h0M1686.8 316.2h0M1694.2 310.4h0M1694.4 306.7h0M1703.6 296.6h0M1699.4 294.4h0M1710.3 291.4h0M1711.5 285.4h0M1718.8 277.7h0M1722.1 280.7h0M1723.1 277.1h0M1729.6 264.8h0M1732.2 262.4h0M1729.9 261.4h0M1732.0 242.8h0M1728.8 240.3h0M1729.1 242.5h0M1716.4 233.1h0" stroke="#ff0000" stroke-width="8.4" stroke-linecap="round" fill="none"/>
<polyline class="ln" stroke-linecap="round" stroke="#ff0000" stroke-width="8.6" points="1228.7,656.5 1254.9,651.3 1281.1,650.4 1307.3,653.9 1333.5,657.4 1356.2,662.6 1364.9,668.7 1377.2,661.8 1387.6,654.8 1396.4,644.3 1398.1,623.3 1394.6,602.4 1392.0,584.9 1394.6,567.5 1403.3,555.2 1412.0,550.0 1429.5,542.8 1464.5,537.6 1490.7,528.8 1516.8,518.3 1534.3,509.6 1545.0,506.1 1562.5,497.4 1581.7,492.2 1597.4,495.7 1614.8,507.9 1628.8,525.3 1637.5,539.3 1640.2,550.0 1637.5,567.5 1627.1,584.9 1616.6,602.4 1609.6,619.8 1607.0,637.3 1613.1,654.8 1625.3,672.2 1639.3,689.7 1651.5,707.2 1658.5,724.6 1663.7,742.1 1668.1,759.5 1672.5,777.0 1676.0,794.5 1682.9,811.9 1691.7,829.4 1702.1,846.8 1710.9,860.8 1717.0,873.0"/>
<path d="M1228.3 657.8h0M1239.5 652.4h0M1240.2 657.8h0M1245.5 653.8h0M1250.9 655.3h0M1253.2 647.4h0M1260.5 648.1h0M1267.8 649.0h0M1270.9 653.8h0M1278.6 654.5h0M1282.1 647.5h0M1286.8 650.7h0M1298.4 650.4h0M1296.8 650.9h0M1301.2 650.1h0M1306.5 654.3h0M1313.6 657.3h0M1321.2 659.3h0M1323.8 657.7h0M1329.7 654.8h0M1335.1 659.0h0M1346.2 663.5h0M1342.7 658.2h0M1355.9 664.5h0M1358.3 668.2h0M1361.6 668.2h0M1373.8 666.0h0M1367.7 660.9h0M1378.5 660.6h0M1385.6 658.9h0M1392.9 648.5h0M1394.7 647.0h0M1399.0 646.4h0M1398.2 631.1h0M1393.1 636.9h0M1395.8 622.0h0M1402.1 623.2h0M1394.7 621.6h0M1398.5 612.6h0M1398.8 610.3h0M1390.2 594.6h0M1396.3 595.3h0M1394.5 581.2h0M1388.8 584.4h0M1390.9 580.1h0M1391.1 571.4h0M1393.8 569.6h0M1400.4 561.2h0M1404.9 556.4h0M1399.8 554.3h0M1406.9 549.3h0M1417.4 548.1h0M1419.0 545.7h0M1429.9 540.5h0M1433.3 542.5h0M1438.9 544.2h0M1444.0 542.3h0M1442.8 537.8h0M1452.3 537.3h0M1454.5 541.0h0M1463.4 542.4h0M1464.2 538.8h0M1473.6 537.7h0M1472.9 536.5h0M1485.0 533.8h0M1488.5 530.2h0M1495.1 531.1h0M1498.0 528.7h0M1506.4 527.5h0M1507.3 525.0h0M1514.5 521.4h0M1519.8 518.6h0M1527.2 514.7h0M1535.9 508.0h0M1533.9 507.7h0M1541.0 509.2h0M1552.0 501.1h0M1559.3 504.0h0M1562.0 500.9h0M1571.2 492.0h0M1569.7 491.1h0M1582.8 491.9h0M1582.0 491.1h0M1587.2 496.3h0M1593.6 494.3h0M1600.4 493.1h0M1606.1 502.4h0M1611.3 506.5h0M1612.5 507.4h0M1619.3 511.4h0M1617.7 515.8h0M1625.0 514.7h0M1623.4 520.3h0M1632.0 531.0h0M1633.1 530.3h0M1637.4 531.8h0M1641.2 538.9h0M1643.3 548.2h0M1635.9 555.4h0M1642.6 559.0h0M1642.0 565.7h0M1637.4 573.4h0M1636.7 569.4h0M1634.3 575.2h0M1630.8 583.9h0M1629.0 585.7h0M1622.4 588.3h0M1620.0 599.7h0M1616.5 603.0h0M1614.8 612.3h0M1613.4 604.7h0M1606.4 622.6h0M1611.6 625.9h0M1608.5 625.6h0M1603.9 641.0h0M1612.9 645.5h0M1613.1 649.4h0M1608.5 654.0h0M1617.9 656.1h0M1614.9 657.0h0M1617.2 668.0h0M1625.9 668.5h0M1629.9 676.8h0M1636.4 679.8h0M1635.9 684.6h0M1635.4 693.9h0M1641.9 696.5h0M1645.9 693.5h0M1647.9 703.1h0M1647.4 702.6h0M1654.8 713.5h0M1654.1 715.0h0M1659.5 727.2h0M1662.9 729.1h0M1664.1 740.1h0M1665.5 739.0h0M1663.5 748.7h0M1668.3 751.3h0M1666.2 759.7h0M1673.7 765.5h0M1668.6 765.0h0M1670.8 772.9h0M1674.9 784.3h0M1671.7 787.4h0M1672.7 793.8h0M1679.0 797.4h0M1674.5 802.3h0M1677.9 808.4h0M1680.6 812.8h0M1686.3 825.3h0M1690.1 829.7h0M1692.2 835.8h0M1698.4 840.2h0M1702.0 841.7h0M1704.6 846.2h0M1708.9 849.8h0M1704.4 849.5h0M1711.9 857.6h0M1712.3 860.7h0M1716.4 869.9h0" stroke="#ff0000" stroke-width="8.4" stroke-linecap="round" fill="none"/>
<polyline class="ln" stroke-linecap="round" stroke="#ff0000" stroke-width="8.6" points="1227.0,826.8 1246.2,822.4 1272.4,822.4 1298.6,827.6 1321.3,836.4 1342.2,848.6 1357.9,860.8 1368.4,873.0 1371.0,876.0"/>
<path d="M1228.8 822.9h0M1234.5 824.1h0M1241.8 823.0h0M1245.3 821.3h0M1254.7 824.4h0M1255.1 818.9h0M1268.4 823.2h0M1270.2 824.6h0M1271.1 824.1h0M1280.7 820.5h0M1281.7 822.8h0M1289.7 829.8h0M1294.0 826.4h0M1297.1 828.0h0M1305.9 832.7h0M1311.3 835.8h0M1312.4 830.9h0M1319.8 834.3h0M1332.9 840.2h0M1335.1 840.1h0M1337.1 848.3h0M1343.2 853.0h0M1347.5 853.0h0M1362.4 857.4h0M1364.4 861.3h0M1359.4 866.1h0M1368.1 874.1h0M1367.3 876.5h0" stroke="#ff0000" stroke-width="8.4" stroke-linecap="round" fill="none"/>
<polyline class="ln" stroke-linecap="round" stroke="#ff0000" stroke-width="8.6" points="1871.0,665.2 1850.6,670.5 1833.1,677.5 1819.1,687.9 1808.7,701.9 1803.4,719.4 1805.2,736.8 1808.7,754.3 1812.2,771.8 1817.4,789.2 1826.1,803.2 1838.3,815.4 1850.6,824.1 1871.0,822.4"/>
<path d="M1872.3 666.7h0M1859.0 665.6h0M1858.5 667.0h0M1851.3 672.6h0M1847.4 674.4h0M1840.5 676.4h0M1832.1 677.1h0M1827.0 681.2h0M1826.4 677.6h0M1827.1 684.3h0M1815.1 693.5h0M1814.3 693.1h0M1811.3 697.1h0M1811.9 702.6h0M1806.2 706.3h0M1803.8 714.6h0M1800.2 722.2h0M1806.2 721.9h0M1801.3 733.9h0M1806.3 740.4h0M1806.4 746.3h0M1807.4 746.6h0M1813.7 755.4h0M1811.9 761.6h0M1812.9 770.1h0M1811.6 774.9h0M1813.4 781.3h0M1817.1 784.2h0M1817.1 786.2h0M1825.6 796.1h0M1827.9 798.6h0M1822.9 801.0h0M1828.5 811.4h0M1833.0 813.3h0M1840.2 820.4h0M1844.5 820.2h0M1852.7 824.0h0M1853.7 822.7h0M1861.0 825.7h0M1866.1 824.1h0M1871.1 822.4h0" stroke="#ff0000" stroke-width="8.4" stroke-linecap="round" fill="none"/>
</g>
<circle cx="1378.8" cy="510.0" r="4.3" fill="#ff0000"/>
<circle cx="1387.7" cy="506.7" r="4.3" fill="#ff0000"/>
<circle cx="1384.4" cy="506.4" r="4.3" fill="#ff0000"/>
<circle cx="1391.7" cy="517.2" r="4.3" fill="#ff0000"/>
<circle cx="1392.6" cy="513.2" r="4.3" fill="#ff0000"/>
<circle cx="1387.7" cy="514.0" r="4.3" fill="#ff0000"/>
<circle cx="1380.1" cy="517.0" r="4.3" fill="#ff0000"/>
<circle cx="1377.7" cy="513.9" r="4.3" fill="#ff0000"/>
<circle cx="1389.6" cy="516.4" r="4.3" fill="#ff0000"/>
<circle cx="1383.2" cy="525.4" r="4.3" fill="#ff0000"/>
<circle cx="1385.4" cy="512.0" r="4.3" fill="#ff0000"/>
<circle cx="1386.1" cy="512.4" r="4.3" fill="#ff0000"/>
<circle cx="1382.4" cy="513.6" r="4.3" fill="#ff0000"/>
<circle cx="1394.3" cy="516.1" r="4.3" fill="#ff0000"/>
<circle cx="1732.4" cy="255.4" r="4.3" fill="#ff0000"/>
<circle cx="1742.1" cy="248.8" r="4.3" fill="#ff0000"/>
<circle cx="1728.1" cy="261.4" r="4.3" fill="#ff0000"/>
<circle cx="1721.4" cy="247.6" r="4.3" fill="#ff0000"/>
<circle cx="1734.3" cy="261.2" r="4.3" fill="#ff0000"/>
<circle cx="1726.7" cy="239.0" r="4.3" fill="#ff0000"/>
<circle cx="1736.2" cy="245.9" r="4.3" fill="#ff0000"/>
<circle cx="1727.9" cy="253.7" r="4.3" fill="#ff0000"/>
<circle cx="1732.9" cy="252.4" r="4.3" fill="#ff0000"/>
<circle cx="1728.0" cy="258.8" r="4.3" fill="#ff0000"/>
<circle cx="1740.9" cy="250.2" r="4.3" fill="#ff0000"/>
<circle cx="1727.5" cy="255.7" r="4.3" fill="#ff0000"/>
<circle cx="1734.5" cy="242.4" r="4.3" fill="#ff0000"/>
<circle cx="1727.7" cy="257.6" r="4.3" fill="#ff0000"/>
<circle cx="1730.2" cy="247.3" r="4.3" fill="#ff0000"/>
<circle cx="1732.8" cy="249.7" r="4.3" fill="#ff0000"/>
<circle cx="1731.0" cy="239.0" r="4.3" fill="#ff0000"/>
<circle cx="1741.6" cy="251.2" r="4.3" fill="#ff0000"/>
<circle cx="1724.9" cy="256.8" r="4.3" fill="#ff0000"/>
<circle cx="1733.6" cy="250.1" r="4.3" fill="#ff0000"/>
<circle cx="1735.9" cy="260.6" r="4.3" fill="#ff0000"/>
<circle cx="1734.4" cy="259.8" r="4.3" fill="#ff0000"/>
<circle cx="1373.9" cy="663.3" r="4.3" fill="#ff0000"/>
<circle cx="1363.0" cy="671.4" r="4.3" fill="#ff0000"/>
<circle cx="1358.2" cy="665.8" r="4.3" fill="#ff0000"/>
<circle cx="1372.1" cy="671.9" r="4.3" fill="#ff0000"/>
<circle cx="1368.4" cy="659.0" r="4.3" fill="#ff0000"/>
<circle cx="1374.5" cy="669.0" r="4.3" fill="#ff0000"/>
<circle cx="1370.4" cy="669.8" r="4.3" fill="#ff0000"/>
<circle cx="1359.4" cy="661.5" r="4.3" fill="#ff0000"/>
<circle cx="1361.4" cy="674.3" r="4.3" fill="#ff0000"/>
<circle cx="1361.2" cy="665.6" r="4.3" fill="#ff0000"/>
<circle cx="1390.6" cy="665.1" r="4.3" fill="#ff0000"/>
<circle cx="1394.7" cy="663.5" r="4.3" fill="#ff0000"/>
<circle cx="1389.0" cy="654.6" r="4.3" fill="#ff0000"/>
<circle cx="1392.9" cy="663.5" r="4.3" fill="#ff0000"/>
<circle cx="1397.8" cy="661.5" r="4.3" fill="#ff0000"/>
<circle cx="1709.8" cy="866.2" r="4.3" fill="#ff0000"/>
<circle cx="1707.0" cy="860.0" r="4.3" fill="#ff0000"/>
<circle cx="1708.0" cy="865.4" r="4.3" fill="#ff0000"/>
<circle cx="1720.2" cy="866.6" r="4.3" fill="#ff0000"/>
<circle cx="1718.5" cy="865.1" r="4.3" fill="#ff0000"/>
<circle cx="1714.5" cy="861.5" r="4.3" fill="#ff0000"/>
<circle cx="1712.1" cy="856.3" r="4.3" fill="#ff0000"/>
<circle cx="1708.2" cy="858.8" r="4.3" fill="#ff0000"/>
<circle cx="1717.1" cy="867.3" r="4.3" fill="#ff0000"/>
<circle cx="1717.4" cy="869.9" r="4.3" fill="#ff0000"/>
<circle cx="1844.5" cy="827.2" r="4.3" fill="#ff0000"/>
<circle cx="1853.4" cy="822.0" r="4.3" fill="#ff0000"/>
<circle cx="1851.3" cy="821.2" r="4.3" fill="#ff0000"/>
<circle cx="1839.2" cy="822.5" r="4.3" fill="#ff0000"/>
<circle cx="1841.7" cy="822.6" r="4.3" fill="#ff0000"/>
<circle cx="1843.5" cy="823.7" r="4.3" fill="#ff0000"/>
<circle cx="1840.3" cy="827.6" r="4.3" fill="#ff0000"/>
<circle cx="1852.1" cy="820.4" r="4.3" fill="#ff0000"/>
<circle cx="1841.3" cy="822.0" r="4.3" fill="#ff0000"/>
<circle cx="1401.5" cy="562.2" r="4.3" fill="#ff0000"/>
<circle cx="1399.5" cy="552.7" r="4.3" fill="#ff0000"/>
<circle cx="1393.4" cy="565.4" r="4.3" fill="#ff0000"/>
<circle cx="1399.0" cy="553.4" r="4.3" fill="#ff0000"/>
<circle cx="1394.4" cy="554.0" r="4.3" fill="#ff0000"/>
<circle cx="1278.7" cy="439.8" r="4.3" fill="#ff0000"/>
<circle cx="1281.2" cy="440.1" r="4.3" fill="#ff0000"/>
<circle cx="1282.6" cy="431.1" r="4.3" fill="#ff0000"/>
<circle cx="1280.4" cy="441.6" r="4.3" fill="#ff0000"/>
<circle cx="1618.3" cy="603.3" r="4.3" fill="#ff0000"/>
<circle cx="1625.4" cy="607.3" r="4.3" fill="#ff0000"/>
<circle cx="1621.0" cy="611.9" r="4.3" fill="#ff0000"/>
<circle cx="1615.7" cy="608.3" r="4.3" fill="#ff0000"/>
<circle cx="1832.8" cy="807.7" r="4.3" fill="#ff0000"/>
<circle cx="1833.2" cy="815.9" r="4.3" fill="#ff0000"/>
<circle cx="1835.6" cy="806.6" r="4.3" fill="#ff0000"/>
<circle cx="1832.8" cy="816.5" r="4.3" fill="#ff0000"/>
<circle cx="1385.0" cy="515.0" r="4.3" fill="#ff0000"/>
<circle cx="1378.0" cy="523.0" r="4.3" fill="#ff0000"/>
<circle cx="1392.0" cy="530.0" r="4.3" fill="#ff0000"/>
<circle cx="1372.0" cy="530.0" r="4.3" fill="#ff0000"/>
<circle cx="1343.0" cy="522.0" r="4.3" fill="#ff0000"/>
<circle cx="1730.0" cy="248.0" r="4.3" fill="#ff0000"/>
<circle cx="1738.0" cy="260.0" r="4.3" fill="#ff0000"/>
<circle cx="1722.0" cy="240.0" r="4.3" fill="#ff0000"/>
<circle cx="1742.0" cy="270.0" r="4.3" fill="#ff0000"/>
<circle cx="1733.0" cy="280.0" r="4.3" fill="#ff0000"/>
<circle cx="1412.0" cy="568.0" r="4.3" fill="#ff0000"/>
<circle cx="1380.0" cy="671.0" r="4.3" fill="#ff0000"/>
<circle cx="1393.0" cy="665.0" r="4.3" fill="#ff0000"/>
<circle cx="1360.0" cy="672.0" r="4.3" fill="#ff0000"/>
<circle cx="1441.0" cy="556.0" r="4.3" fill="#ff0000"/>
<circle cx="1468.0" cy="551.0" r="4.3" fill="#ff0000"/>
<circle cx="1713.0" cy="865.0" r="4.3" fill="#ff0000"/>
<circle cx="1706.0" cy="855.0" r="4.3" fill="#ff0000"/>
<circle cx="1675.0" cy="820.0" r="4.3" fill="#ff0000"/>
<circle cx="1640.0" cy="703.0" r="4.3" fill="#ff0000"/>
<circle cx="1626.0" cy="603.0" r="4.3" fill="#ff0000"/>
<circle cx="1622.0" cy="614.0" r="4.3" fill="#ff0000"/>
<circle cx="1842.0" cy="820.0" r="4.3" fill="#ff0000"/>
<circle cx="1830.0" cy="812.0" r="4.3" fill="#ff0000"/>
<circle cx="1862.0" cy="826.0" r="4.3" fill="#ff0000"/>
<circle cx="1278.0" cy="440.0" r="4.3" fill="#ff0000"/>
<circle cx="1289.0" cy="424.0" r="4.3" fill="#ff0000"/>
<circle cx="1705.6" cy="878.0" r="2.4" fill="#ff0000"/>
<circle cx="1725.0" cy="878.0" r="2.4" fill="#ff0000"/>
<circle cx="1369.0" cy="878.0" r="2.4" fill="#ff0000"/>
<path d="M1226.6 785.7h6.5M1873.0 785.7h-6.5M1226.6 696.7h6.5M1873.0 696.7h-6.5M1226.6 607.7h6.5M1873.0 607.7h-6.5M1226.6 518.7h6.5M1873.0 518.7h-6.5M1226.6 429.7h6.5M1873.0 429.7h-6.5M1226.6 340.7h6.5M1873.0 340.7h-6.5M1226.6 251.7h6.5M1873.0 251.7h-6.5M1450.2 230.6v6.5M1450.2 875.0v-6.5M1673.8 230.6v6.5M1673.8 875.0v-6.5" stroke="#222" stroke-width="1.6" fill="none"/>
<rect x="1226.6" y="230.6" width="646.4" height="644.4" fill="none" stroke="#2a2a2a" stroke-width="2"/>
<rect x="1885" y="283.9" width="33.9" height="544.7" fill="url(#cbc)" stroke="#333" stroke-width="1.6"/>
<path d="M1918.9 719.6h-7M1918.9 610.7h-7M1918.9 501.8h-7M1918.9 392.9h-7" stroke="#333" stroke-width="1.5" fill="none"/>
</g>
<g id="panel-d">
<path d="M1304.4 1065.4v21M1304.4 1352.4v-21M1413.3 1065.4v21M1413.3 1352.4v-21M1523.3 1065.4v21M1523.3 1352.4v-21M1632.7 1065.4v21M1632.7 1352.4v-21M1741.6 1065.4v21M1741.6 1352.4v-21M1850.4 1065.4v21M1850.4 1352.4v-21M1959.6 1065.4v21M1959.6 1352.4v-21M1195.3 1143.3h8M1986.2 1143.3h-8M1195.3 1221.1h8M1986.2 1221.1h-8M1195.3 1298.4h8M1986.2 1298.4h-8" stroke="#9c9c9c" stroke-width="1" fill="none"/>
<rect x="1195.3" y="1065.4" width="790.9" height="287.0" fill="none" stroke="#9c9c9c" stroke-width="1"/>
<polyline class="ln" stroke="#000" stroke-width="2.3" points="1195.1,1216.7 1198.9,1220.0 1201.1,1224.4 1204.4,1262.2 1207.1,1307.8 1210.0,1297.8 1211.6,1273.3 1213.3,1195.6 1214.4,1190.7 1216.7,1240.0 1219.6,1290.0 1221.1,1282.2 1223.3,1285.6 1225.6,1251.1 1227.8,1173.3 1229.3,1120.0 1232.9,1106.7 1235.6,1144.4 1238.2,1217.8 1240.0,1233.3 1242.2,1193.3 1244.7,1174.4 1247.8,1193.3 1251.1,1216.7 1253.3,1191.1 1256.0,1182.2 1257.8,1220.0 1261.1,1273.3 1264.0,1323.3 1266.7,1284.4 1269.3,1195.6 1271.8,1136.7 1273.3,1173.3 1276.0,1280.0 1279.6,1304.4 1282.2,1262.2 1285.6,1200.0 1288.0,1178.9 1290.0,1217.8 1292.9,1261.1 1296.0,1216.7 1300.0,1248.9 1303.3,1243.3 1307.8,1184.4 1309.3,1193.3 1312.2,1140.0 1314.9,1117.8 1316.7,1133.3 1318.2,1137.8 1321.1,1195.6 1324.4,1306.7 1327.3,1352.2 1330.0,1328.9 1333.3,1240.0 1336.7,1151.1 1339.1,1100.4 1340.9,1106.7 1343.3,1157.8 1345.6,1168.9 1348.2,1186.7 1351.1,1262.2 1353.8,1317.8 1356.7,1311.1 1359.6,1240.0 1362.2,1168.9 1364.4,1161.1 1366.2,1164.4 1368.9,1211.1 1371.1,1215.6 1373.3,1205.6 1375.6,1231.1 1378.9,1214.4 1381.1,1248.9 1384.0,1254.4 1386.7,1217.8 1388.9,1203.3 1391.1,1240.0 1393.8,1265.6 1396.7,1240.0 1398.9,1214.4 1401.1,1234.4 1404.4,1195.6 1406.2,1176.7 1408.9,1200.0 1412.2,1250.0 1415.6,1217.8 1418.7,1175.6 1421.1,1200.0 1424.4,1237.8 1427.8,1233.3 1431.1,1252.2 1434.4,1208.9 1436.0,1196.7 1438.9,1228.9 1440.7,1242.2 1443.3,1206.7 1445.6,1177.8 1447.3,1178.9 1449.3,1226.7 1451.6,1240.0 1453.3,1222.2 1457.8,1218.9 1461.1,1233.3 1464.4,1233.3 1468.2,1264.4 1471.1,1240.0 1474.4,1182.2 1477.8,1171.1 1481.1,1200.0 1483.3,1211.1 1485.6,1233.3 1487.8,1251.1 1490.0,1228.9 1492.2,1210.0 1495.6,1236.7 1497.8,1204.4 1500.4,1197.8 1502.2,1262.2 1504.4,1298.9 1506.7,1262.2 1508.9,1206.7 1511.8,1168.9 1513.3,1186.7 1516.0,1200.0 1518.9,1186.7 1521.1,1170.0 1523.3,1195.6 1526.0,1242.2 1528.9,1262.2 1532.2,1248.9 1535.6,1233.3 1538.4,1200.0 1541.1,1213.3 1543.3,1182.2 1545.6,1166.7 1547.8,1184.4 1550.0,1228.9 1552.2,1262.2 1555.6,1253.3 1558.9,1228.9 1562.2,1230.0 1566.2,1204.4 1568.9,1222.2 1571.1,1243.3 1573.3,1195.6 1575.6,1174.4 1577.8,1213.3 1580.0,1246.7 1582.2,1215.6 1584.4,1204.4 1587.8,1223.3 1590.7,1203.3 1595.1,1208.9 1597.8,1235.6 1600.0,1238.9 1602.2,1247.8 1604.4,1244.4 1606.2,1220.0 1608.4,1215.6 1610.7,1224.4 1613.3,1221.1 1616.7,1206.7 1618.9,1215.6 1621.6,1217.8 1623.3,1228.9 1625.6,1242.2 1627.8,1217.8 1630.7,1196.7 1632.9,1215.6 1635.6,1217.8 1637.1,1208.9 1638.9,1223.3 1642.2,1215.6 1645.3,1187.8 1647.8,1200.0 1650.0,1228.9 1652.7,1261.1 1655.6,1265.6 1657.8,1267.8 1660.0,1242.2 1662.2,1213.3 1665.6,1193.3 1667.8,1208.9 1669.6,1230.0 1672.2,1195.6 1676.0,1173.3 1678.9,1186.7 1681.8,1233.3 1684.4,1238.9 1686.7,1246.7 1688.9,1236.7 1691.1,1230.0 1693.3,1211.1 1696.4,1194.4 1698.9,1215.6 1702.2,1230.0 1704.9,1243.3 1707.8,1246.7 1709.6,1211.1 1712.2,1222.2 1714.4,1247.8 1716.7,1224.4 1718.9,1207.8 1721.6,1211.1 1724.0,1200.0 1726.2,1215.6 1728.4,1237.8 1731.1,1240.0 1732.9,1216.7 1734.9,1211.1 1736.7,1248.9 1738.9,1217.8 1740.9,1182.2 1743.3,1215.6 1745.6,1226.7 1747.8,1208.9 1750.0,1241.1 1752.2,1224.4 1754.4,1206.7 1756.2,1233.3 1758.4,1222.2 1760.7,1197.8 1762.7,1190.0 1765.1,1213.3 1767.1,1193.3 1769.3,1191.1 1771.1,1217.8 1772.7,1246.7 1775.1,1260.0 1777.3,1264.4 1779.3,1280.0 1781.1,1235.6 1783.3,1222.2 1785.6,1186.7 1787.6,1165.6 1789.3,1217.8 1791.1,1256.7 1793.8,1253.3 1796.0,1226.7 1797.8,1251.1 1799.6,1271.1 1801.8,1253.3 1803.3,1195.6 1805.6,1148.9 1807.8,1157.8 1810.0,1186.7 1812.0,1167.8 1814.0,1186.7 1816.2,1220.0 1818.9,1233.3 1821.1,1248.9 1824.0,1264.4 1826.7,1277.8 1828.9,1262.2 1831.6,1217.8 1834.4,1187.8 1837.3,1186.7 1839.6,1240.0 1842.2,1255.6 1844.4,1240.0 1846.7,1173.3 1848.9,1148.9 1851.1,1173.3 1853.3,1228.9 1855.6,1262.2 1857.8,1246.7 1860.4,1223.3 1862.2,1244.4 1864.4,1235.6 1866.7,1235.6 1868.9,1203.3 1871.1,1235.6 1873.3,1246.7 1875.6,1217.8 1877.8,1177.8 1880.4,1136.7 1882.7,1195.6 1885.6,1235.6 1888.9,1245.6 1891.1,1235.6 1893.8,1208.9 1896.4,1201.1 1899.6,1211.1 1901.8,1233.3 1904.4,1241.1 1906.7,1253.3 1908.9,1266.7 1911.6,1244.4 1914.4,1217.8 1917.3,1197.8 1920.0,1217.8 1922.2,1231.1 1925.1,1215.6 1927.1,1234.4 1929.3,1208.9 1931.8,1196.7 1933.8,1222.2 1936.7,1238.9 1937.8,1227.8 1940.0,1261.1 1942.2,1217.8 1944.4,1192.2 1947.1,1231.1 1949.8,1186.7 1952.4,1178.9 1955.1,1208.9 1957.8,1232.2 1960.4,1227.8 1963.1,1235.6 1965.6,1208.9 1967.8,1164.4 1969.3,1150.0 1971.6,1162.2 1973.8,1195.6 1976.0,1234.4 1978.9,1225.6 1982.2,1267.8 1984.4,1253.3 1986.2,1231.1"/>
</g>
<g id="panel-e">
<path d="M1306.7 1439.6v21M1306.7 1727.9v-21M1416.5 1439.6v21M1416.5 1727.9v-21M1525.7 1439.6v21M1525.7 1727.9v-21M1634.5 1439.6v21M1634.5 1727.9v-21M1744.2 1439.6v21M1744.2 1727.9v-21M1853.5 1439.6v21M1853.5 1727.9v-21M1963.6 1439.6v21M1963.6 1727.9v-21M1197.3 1501.6h8M1990.0 1501.6h-8M1197.3 1564.0h8M1990.0 1564.0h-8M1197.3 1626.7h8M1990.0 1626.7h-8M1197.3 1688.9h8M1990.0 1688.9h-8" stroke="#9c9c9c" stroke-width="1" fill="none"/>
<rect x="1197.3" y="1439.6" width="792.7" height="288.3" fill="none" stroke="#9c9c9c" stroke-width="1"/>
<polyline class="ln" stroke="#000" stroke-width="2.3" points="1197.3,1592.2 1198.4,1594.4 1200.4,1552.2 1201.8,1568.9 1203.3,1600.0 1205.1,1688.9 1206.7,1666.7 1208.9,1626.7 1210.7,1618.9 1213.3,1628.9 1215.6,1647.8 1217.3,1655.6 1220.0,1635.6 1221.6,1633.3 1223.1,1613.3 1224.4,1628.9 1225.6,1622.2 1227.8,1644.4 1229.8,1654.4 1231.1,1642.2 1232.9,1646.7 1235.1,1622.2 1236.7,1613.3 1237.8,1584.4 1239.6,1593.3 1240.9,1585.6 1242.2,1606.7 1244.4,1610.0 1245.8,1617.8 1246.7,1596.7 1248.9,1601.1 1250.2,1622.2 1251.6,1660.0 1253.3,1633.3 1255.6,1573.3 1256.7,1577.8 1258.2,1608.9 1259.6,1611.1 1261.3,1627.8 1263.3,1637.8 1264.4,1654.4 1266.7,1640.0 1268.4,1641.1 1270.0,1648.9 1272.4,1668.9 1274.2,1655.6 1276.0,1617.8 1277.8,1577.8 1279.6,1550.0 1281.3,1600.0 1283.1,1640.0 1284.9,1687.8 1286.7,1676.7 1288.2,1701.1 1289.6,1662.2 1291.1,1668.9 1292.9,1635.6 1294.2,1631.1 1295.6,1595.6 1297.8,1602.2 1299.1,1608.9 1300.4,1658.9 1302.2,1658.9 1304.0,1611.1 1305.8,1568.9 1307.6,1547.8 1308.9,1555.6 1310.7,1600.0 1312.2,1635.6 1313.3,1645.6 1315.1,1613.3 1316.0,1606.7 1317.3,1644.4 1318.7,1672.2 1320.4,1655.6 1322.2,1564.4 1324.4,1557.8 1325.8,1600.0 1327.6,1620.0 1329.3,1651.1 1331.6,1676.7 1333.3,1622.2 1335.6,1594.4 1337.3,1618.9 1339.1,1595.6 1340.9,1597.8 1342.2,1640.0 1344.4,1678.9 1346.2,1678.9 1348.0,1637.8 1349.8,1620.0 1351.6,1633.3 1352.9,1632.2 1354.7,1665.6 1356.7,1631.1 1358.9,1613.3 1360.7,1601.1 1362.7,1631.1 1364.4,1688.9 1365.8,1728.9 1367.3,1688.9 1368.9,1600.0 1370.2,1582.2 1371.6,1602.2 1373.3,1577.8 1374.7,1576.7 1376.2,1548.9 1377.8,1577.8 1379.3,1582.2 1380.9,1583.3 1382.2,1587.8 1383.6,1588.9 1384.9,1606.7 1386.2,1620.0 1388.0,1624.4 1389.8,1644.4 1391.6,1666.7 1393.3,1682.2 1394.7,1665.6 1396.0,1662.2 1397.8,1622.2 1399.6,1626.7 1401.3,1654.4 1403.1,1640.0 1405.3,1623.3 1407.1,1638.9 1408.9,1622.2 1411.1,1600.0 1412.9,1593.3 1414.7,1633.3 1416.4,1665.6 1418.2,1678.9 1420.0,1633.3 1422.2,1581.1 1424.4,1597.8 1426.0,1622.2 1427.1,1677.8 1428.9,1695.6 1430.7,1688.9 1432.4,1644.4 1434.7,1588.9 1436.4,1533.3 1438.7,1512.2 1440.4,1546.7 1441.8,1553.3 1443.6,1588.9 1444.9,1600.0 1446.7,1638.9 1448.4,1624.4 1449.8,1646.7 1451.6,1677.8 1453.3,1708.9 1455.1,1695.6 1456.9,1673.3 1459.1,1697.8 1460.9,1666.7 1462.7,1635.6 1464.4,1620.0 1466.2,1635.6 1468.0,1588.9 1469.8,1544.4 1471.1,1520.0 1472.9,1577.8 1474.7,1608.9 1476.4,1610.0 1478.7,1582.2 1480.0,1644.4 1481.8,1700.0 1483.6,1724.4 1485.3,1695.6 1486.9,1676.7 1488.9,1700.0 1491.1,1695.6 1493.3,1622.2 1495.6,1555.6 1496.9,1533.3 1498.7,1521.1 1500.4,1544.4 1502.2,1563.3 1504.4,1564.4 1505.8,1591.1 1507.6,1616.7 1509.3,1615.6 1510.2,1623.3 1512.2,1608.9 1514.0,1622.2 1515.6,1644.4 1517.8,1676.7 1520.0,1658.9 1522.2,1666.7 1524.4,1677.8 1526.2,1675.6 1528.0,1655.6 1529.6,1600.0 1531.1,1588.9 1532.9,1600.0 1534.4,1633.3 1536.2,1636.7 1538.2,1595.6 1540.4,1583.3 1542.2,1606.7 1544.4,1644.4 1546.2,1672.2 1548.4,1633.3 1550.7,1612.2 1552.4,1633.3 1554.4,1666.7 1556.7,1673.3 1558.4,1644.4 1560.4,1611.1 1562.2,1580.0 1564.0,1598.9 1565.6,1571.1 1567.1,1582.2 1568.4,1543.3 1570.0,1588.9 1571.6,1611.1 1572.9,1644.4 1574.4,1631.1 1575.6,1635.6 1577.3,1604.4 1578.7,1615.6 1580.2,1598.9 1581.8,1640.0 1583.1,1644.4 1585.6,1703.3 1587.8,1655.6 1589.3,1622.2 1590.7,1606.7 1592.2,1613.3 1594.0,1637.8 1595.6,1640.0 1597.3,1588.9 1599.1,1552.9 1600.7,1588.9 1602.2,1655.6 1604.0,1697.3 1605.8,1646.7 1607.1,1644.4 1608.9,1631.1 1611.1,1677.8 1612.9,1644.4 1614.4,1626.7 1616.7,1623.3 1618.2,1620.0 1620.0,1600.0 1621.3,1553.3 1622.7,1551.1 1624.0,1584.4 1625.6,1586.7 1626.2,1598.9 1627.8,1588.9 1629.8,1590.0 1631.6,1613.3 1633.3,1625.6 1635.1,1625.6 1636.9,1611.1 1639.1,1595.6 1640.9,1640.0 1642.2,1655.6 1643.6,1663.3 1645.1,1652.2 1646.7,1680.0 1648.9,1676.7 1650.7,1648.9 1652.2,1647.8 1653.3,1668.9 1655.1,1640.0 1656.9,1608.9 1658.7,1596.7 1660.4,1613.3 1662.2,1635.6 1664.0,1664.4 1665.6,1668.9 1667.1,1626.7 1668.9,1614.4 1670.7,1586.7 1672.4,1574.4 1674.2,1584.4 1675.6,1644.4 1677.1,1681.1 1678.9,1644.4 1680.4,1613.3 1682.2,1586.7 1684.0,1595.6 1685.3,1591.1 1686.7,1620.0 1688.2,1634.4 1690.0,1635.6 1691.6,1622.2 1692.9,1605.6 1694.7,1622.2 1696.4,1600.0 1697.8,1583.3 1699.1,1593.3 1700.4,1571.1 1702.2,1622.2 1704.0,1655.6 1705.6,1671.1 1707.1,1666.7 1708.9,1611.1 1710.7,1585.6 1712.0,1574.4 1713.3,1600.0 1715.1,1615.6 1716.9,1628.9 1717.8,1642.2 1719.6,1650.0 1720.9,1688.9 1722.2,1720.0 1724.0,1706.7 1725.8,1666.7 1727.1,1651.1 1728.9,1664.4 1730.7,1622.2 1732.0,1600.0 1733.3,1585.6 1734.7,1600.0 1736.4,1597.8 1737.8,1647.8 1739.6,1644.4 1741.3,1622.2 1743.1,1606.7 1745.3,1603.3 1747.1,1620.0 1748.4,1607.8 1750.2,1626.7 1751.6,1602.2 1753.3,1597.8 1754.7,1584.4 1756.0,1577.8 1756.9,1546.7 1758.7,1577.8 1759.6,1584.4 1760.4,1622.2 1761.6,1658.9 1763.1,1661.1 1764.4,1671.1 1766.2,1677.8 1767.6,1644.4 1768.9,1622.2 1770.2,1600.0 1771.3,1572.2 1772.9,1595.6 1774.4,1588.9 1776.0,1613.3 1776.9,1628.9 1778.2,1608.9 1779.3,1626.7 1780.7,1604.4 1781.8,1644.4 1783.1,1668.9 1784.9,1686.7 1786.7,1644.4 1788.2,1617.8 1789.8,1637.8 1791.1,1655.6 1792.4,1693.3 1794.0,1711.1 1795.1,1721.1 1796.7,1677.8 1798.2,1622.2 1800.0,1573.3 1802.9,1571.1 1804.4,1595.6 1806.7,1625.6 1808.4,1600.0 1810.0,1598.9 1811.6,1580.0 1813.3,1608.9 1814.7,1622.2 1816.4,1611.1 1817.8,1596.7 1819.6,1597.8 1821.1,1608.9 1822.2,1621.1 1824.0,1611.1 1825.6,1606.7 1827.1,1595.6 1828.4,1622.2 1830.0,1690.0 1831.8,1677.8 1833.3,1676.7 1834.7,1633.3 1836.0,1648.9 1837.8,1617.8 1839.6,1606.7 1840.7,1577.8 1841.8,1552.9 1843.3,1600.0 1844.9,1666.7 1846.2,1718.9 1847.8,1666.7 1848.9,1622.2 1850.2,1603.3 1851.6,1633.3 1853.3,1655.6 1855.1,1662.2 1856.9,1618.9 1858.2,1644.4 1859.6,1648.9 1861.1,1631.1 1862.7,1655.6 1864.4,1628.9 1866.2,1613.3 1867.6,1555.6 1868.4,1545.6 1870.0,1573.3 1871.6,1600.0 1873.3,1614.4 1875.1,1571.1 1876.9,1568.9 1878.2,1600.0 1880.0,1666.7 1881.3,1693.3 1882.7,1700.0 1884.0,1655.6 1885.6,1597.8 1887.1,1611.1 1888.4,1607.8 1889.8,1625.6 1891.1,1614.4 1892.4,1614.4 1893.8,1637.8 1895.6,1677.8 1897.3,1666.7 1898.9,1655.6 1900.4,1628.9 1902.2,1628.9 1904.4,1600.0 1906.2,1566.7 1907.8,1563.3 1908.9,1546.7 1910.2,1600.0 1911.6,1644.4 1913.3,1693.3 1914.7,1666.7 1916.0,1640.0 1917.3,1640.0 1918.2,1655.6 1919.3,1664.4 1920.9,1633.3 1922.2,1613.3 1924.0,1615.6 1925.6,1644.4 1926.7,1675.6 1928.4,1676.7 1929.8,1666.7 1931.1,1622.2 1932.9,1620.0 1934.4,1588.9 1936.0,1563.3 1937.3,1575.6 1938.9,1573.3 1940.4,1595.6 1941.8,1580.0 1943.3,1622.2 1944.9,1655.6 1946.7,1685.6 1948.4,1666.7 1950.2,1662.2 1952.0,1628.9 1953.8,1626.7 1955.6,1600.0 1957.8,1566.7 1959.6,1588.9 1961.3,1617.8 1962.7,1621.1 1964.0,1606.7 1965.8,1611.1 1967.1,1644.4 1968.4,1657.8 1970.2,1636.7 1971.6,1633.3 1973.8,1676.7 1975.6,1655.6 1977.3,1624.4 1978.9,1618.9 1979.6,1636.7 1981.3,1610.0 1982.7,1628.9 1984.0,1616.7 1985.8,1615.6 1987.1,1626.7 1990.0,1633.3"/>
</g>
<g id="panel-f">
<defs>
<linearGradient id="fr0" gradientUnits="userSpaceOnUse" x1="327.2" y1="0" x2="797.4" y2="0">
<stop offset="0.0000" stop-color="#0000d6"/>
<stop offset="0.2612" stop-color="#0000c7"/>
<stop offset="0.4738" stop-color="#0000b8"/>
<stop offset="0.5802" stop-color="#0000c2"/>
<stop offset="0.7929" stop-color="#0000c7"/>
<stop offset="0.9630" stop-color="#0000cc"/>
<stop offset="1.0000" stop-color="#0000db"/>
</linearGradient>
<linearGradient id="fr1" gradientUnits="userSpaceOnUse" x1="327.2" y1="0" x2="797.4" y2="0">
<stop offset="0.0000" stop-color="#002eff"/>
<stop offset="0.2612" stop-color="#001fff"/>
<stop offset="0.4951" stop-color="#0019ff"/>
<stop offset="0.7929" stop-color="#0024ff"/>
<stop offset="1.0000" stop-color="#0038ff"/>
</linearGradient>
<linearGradient id="fr2" gradientUnits="userSpaceOnUse" x1="327.2" y1="0" x2="797.4" y2="0">
<stop offset="0.0000" stop-color="#0085ff"/>
<stop offset="0.2612" stop-color="#007aff"/>
<stop offset="0.4951" stop-color="#0070ff"/>
<stop offset="0.7503" stop-color="#0075ff"/>
<stop offset="0.8779" stop-color="#008aff"/>
<stop offset="1.0000" stop-color="#008fff"/>
</linearGradient>
<linearGradient id="fr3" gradientUnits="userSpaceOnUse" x1="327.2" y1="0" x2="797.4" y2="0">
<stop offset="0.0000" stop-color="#00f5ff"/>
<stop offset="0.1548" stop-color="#00f0ff"/>
<stop offset="0.2612" stop-color="#00c7ff"/>
<stop offset="0.4100" stop-color="#00a3ff"/>
<stop offset="0.4866" stop-color="#00a8ff"/>
<stop offset="0.4994" stop-color="#00dbff"/>
<stop offset="0.5121" stop-color="#00a8ff"/>
<stop offset="0.6227" stop-color="#0099ff"/>
<stop offset="0.8354" stop-color="#00c7ff"/>
<stop offset="0.9205" stop-color="#00ffff"/>
<stop offset="1.0000" stop-color="#38ffc7"/>
</linearGradient>
<linearGradient id="fr4" gradientUnits="userSpaceOnUse" x1="327.2" y1="0" x2="797.4" y2="0">
<stop offset="0.0000" stop-color="#75ff8a"/>
<stop offset="0.1974" stop-color="#38ffc7"/>
<stop offset="0.3250" stop-color="#00ffff"/>
<stop offset="0.4526" stop-color="#00e5ff"/>
<stop offset="0.4866" stop-color="#00faff"/>
<stop offset="0.4872" stop-color="#00ffff"/>
<stop offset="0.4994" stop-color="#61ff9e"/>
<stop offset="0.5115" stop-color="#00ffff"/>
<stop offset="0.5121" stop-color="#00faff"/>
<stop offset="0.5802" stop-color="#00f0ff"/>
<stop offset="0.7078" stop-color="#00f5ff"/>
<stop offset="0.7209" stop-color="#00ffff"/>
<stop offset="0.7929" stop-color="#38ffc7"/>
<stop offset="0.9205" stop-color="#80ff80"/>
<stop offset="1.0000" stop-color="#80ff80"/>
</linearGradient>
<linearGradient id="fr5" gradientUnits="userSpaceOnUse" x1="327.2" y1="0" x2="797.4" y2="0">
<stop offset="0.0000" stop-color="#8aff75"/>
<stop offset="0.1548" stop-color="#bdff42"/>
<stop offset="0.3250" stop-color="#bdff42"/>
<stop offset="0.4100" stop-color="#9eff61"/>
<stop offset="0.4696" stop-color="#e5ff1a"/>
<stop offset="0.4767" stop-color="#ffff00"/>
<stop offset="0.4866" stop-color="#ffdb00"/>
<stop offset="0.4930" stop-color="#ff6100"/>
<stop offset="0.5100" stop-color="#ff6100"/>
<stop offset="0.5155" stop-color="#ffff00"/>
<stop offset="0.5164" stop-color="#e5ff1a"/>
<stop offset="0.5589" stop-color="#75ff8a"/>
<stop offset="0.6652" stop-color="#80ff80"/>
<stop offset="0.7503" stop-color="#c7ff38"/>
<stop offset="0.8354" stop-color="#ffff00"/>
<stop offset="0.8886" stop-color="#faff05"/>
<stop offset="0.9630" stop-color="#bdff42"/>
<stop offset="1.0000" stop-color="#8aff75"/>
</linearGradient>
<linearGradient id="fr6" gradientUnits="userSpaceOnUse" x1="327.2" y1="0" x2="797.4" y2="0">
<stop offset="0.0000" stop-color="#00bdff"/>
<stop offset="0.0485" stop-color="#00ffff"/>
<stop offset="0.1548" stop-color="#61ff9e"/>
<stop offset="0.2186" stop-color="#faff05"/>
<stop offset="0.2399" stop-color="#ffff00"/>
<stop offset="0.2612" stop-color="#fffa00"/>
<stop offset="0.3250" stop-color="#ff9e00"/>
<stop offset="0.3569" stop-color="#ffc700"/>
<stop offset="0.3888" stop-color="#ff9400"/>
<stop offset="0.4143" stop-color="#ffbd00"/>
<stop offset="0.4419" stop-color="#ff4c00"/>
<stop offset="0.4738" stop-color="#ff2400"/>
<stop offset="0.4757" stop-color="#ff0000"/>
<stop offset="0.4823" stop-color="#800000"/>
<stop offset="0.5185" stop-color="#800000"/>
<stop offset="0.5251" stop-color="#ff0000"/>
<stop offset="0.5270" stop-color="#ff2400"/>
<stop offset="0.5589" stop-color="#ff9400"/>
<stop offset="0.6227" stop-color="#fff000"/>
<stop offset="0.6865" stop-color="#fff500"/>
<stop offset="0.7503" stop-color="#ffa800"/>
<stop offset="0.7929" stop-color="#ffb300"/>
<stop offset="0.8527" stop-color="#ffff00"/>
<stop offset="0.8567" stop-color="#faff05"/>
<stop offset="0.9205" stop-color="#b3ff4c"/>
<stop offset="0.9843" stop-color="#4dffb2"/>
<stop offset="1.0000" stop-color="#2effd1"/>
</linearGradient>
<linearGradient id="fr7" gradientUnits="userSpaceOnUse" x1="327.2" y1="0" x2="797.4" y2="0">
<stop offset="0.0000" stop-color="#0000ff"/>
<stop offset="0.0910" stop-color="#0061ff"/>
<stop offset="0.1442" stop-color="#00ffff"/>
<stop offset="0.1974" stop-color="#80ff80"/>
<stop offset="0.2612" stop-color="#ffff00"/>
<stop offset="0.3250" stop-color="#ff7500"/>
<stop offset="0.3781" stop-color="#ff6b00"/>
<stop offset="0.4061" stop-color="#ff0000"/>
<stop offset="0.4100" stop-color="#f00000"/>
<stop offset="0.4249" stop-color="#800000"/>
<stop offset="0.5610" stop-color="#800000"/>
<stop offset="0.5705" stop-color="#ff0000"/>
<stop offset="0.5717" stop-color="#ff0f00"/>
<stop offset="0.6227" stop-color="#ff7500"/>
<stop offset="0.6865" stop-color="#ffb300"/>
<stop offset="0.7716" stop-color="#fff500"/>
<stop offset="0.7805" stop-color="#ffff00"/>
<stop offset="0.8567" stop-color="#a8ff57"/>
<stop offset="0.9205" stop-color="#00ffff"/>
<stop offset="0.9630" stop-color="#0061ff"/>
<stop offset="1.0000" stop-color="#0000ff"/>
</linearGradient>
<linearGradient id="fr8" gradientUnits="userSpaceOnUse" x1="327.2" y1="0" x2="797.4" y2="0">
<stop offset="0.0000" stop-color="#0000a8"/>
<stop offset="0.1229" stop-color="#0000ff"/>
<stop offset="0.1761" stop-color="#0061ff"/>
<stop offset="0.2123" stop-color="#00ffff"/>
<stop offset="0.2612" stop-color="#80ff80"/>
<stop offset="0.3037" stop-color="#ffff00"/>
<stop offset="0.3356" stop-color="#ff9e00"/>
<stop offset="0.3675" stop-color="#ff0000"/>
<stop offset="0.3952" stop-color="#800000"/>
<stop offset="0.5759" stop-color="#800000"/>
<stop offset="0.5929" stop-color="#e50000"/>
<stop offset="0.5974" stop-color="#ff0000"/>
<stop offset="0.6142" stop-color="#ff6100"/>
<stop offset="0.6652" stop-color="#fff000"/>
<stop offset="0.6759" stop-color="#ffff00"/>
<stop offset="0.7291" stop-color="#b3ff4c"/>
<stop offset="0.8035" stop-color="#00ffff"/>
<stop offset="0.8567" stop-color="#0061ff"/>
<stop offset="0.8992" stop-color="#0000ff"/>
<stop offset="1.0000" stop-color="#00009e"/>
</linearGradient>
<linearGradient id="fr9" gradientUnits="userSpaceOnUse" x1="327.2" y1="0" x2="797.4" y2="0">
<stop offset="0.0000" stop-color="#0000c7"/>
<stop offset="0.1867" stop-color="#0000ff"/>
<stop offset="0.2399" stop-color="#0075ff"/>
<stop offset="0.2718" stop-color="#00ffff"/>
<stop offset="0.3250" stop-color="#ffff00"/>
<stop offset="0.3505" stop-color="#ff9e00"/>
<stop offset="0.3781" stop-color="#ff0000"/>
<stop offset="0.3994" stop-color="#800000"/>
<stop offset="0.5972" stop-color="#800000"/>
<stop offset="0.6078" stop-color="#ff0000"/>
<stop offset="0.6248" stop-color="#ff9e00"/>
<stop offset="0.6652" stop-color="#ffff00"/>
<stop offset="0.7078" stop-color="#61ff9e"/>
<stop offset="0.7333" stop-color="#00ffff"/>
<stop offset="0.7716" stop-color="#0061ff"/>
<stop offset="0.8354" stop-color="#0000ff"/>
<stop offset="1.0000" stop-color="#0000ad"/>
</linearGradient>
<linearGradient id="jetbar" x1="0" y1="1" x2="0" y2="0">
<stop offset="0.000" stop-color="#000080"/>
<stop offset="0.025" stop-color="#000099"/>
<stop offset="0.050" stop-color="#0000b2"/>
<stop offset="0.075" stop-color="#0000cc"/>
<stop offset="0.100" stop-color="#0000e6"/>
<stop offset="0.125" stop-color="#0000ff"/>
<stop offset="0.150" stop-color="#0019ff"/>
<stop offset="0.175" stop-color="#0033ff"/>
<stop offset="0.200" stop-color="#004dff"/>
<stop offset="0.225" stop-color="#0066ff"/>
<stop offset="0.250" stop-color="#0080ff"/>
<stop offset="0.275" stop-color="#0099ff"/>
<stop offset="0.300" stop-color="#00b2ff"/>
<stop offset="0.325" stop-color="#00ccff"/>
<stop offset="0.350" stop-color="#00e5ff"/>
<stop offset="0.375" stop-color="#00ffff"/>
<stop offset="0.400" stop-color="#1affe5"/>
<stop offset="0.425" stop-color="#33ffcc"/>
<stop offset="0.450" stop-color="#4dffb2"/>
<stop offset="0.475" stop-color="#66ff99"/>
<stop offset="0.500" stop-color="#80ff80"/>
<stop offset="0.525" stop-color="#99ff66"/>
<stop offset="0.550" stop-color="#b3ff4c"/>
<stop offset="0.575" stop-color="#ccff33"/>
<stop offset="0.600" stop-color="#e5ff1a"/>
<stop offset="0.625" stop-color="#ffff00"/>
<stop offset="0.650" stop-color="#ffe500"/>
<stop offset="0.675" stop-color="#ffcc00"/>
<stop offset="0.700" stop-color="#ffb300"/>
<stop offset="0.725" stop-color="#ff9900"/>
<stop offset="0.750" stop-color="#ff8000"/>
<stop offset="0.775" stop-color="#ff6600"/>
<stop offset="0.800" stop-color="#ff4c00"/>
<stop offset="0.825" stop-color="#ff3300"/>
<stop offset="0.850" stop-color="#ff1a00"/>
<stop offset="0.875" stop-color="#ff0000"/>
<stop offset="0.900" stop-color="#e50000"/>
<stop offset="0.925" stop-color="#cc0000"/>
<stop offset="0.950" stop-color="#b30000"/>
<stop offset="0.975" stop-color="#990000"/>
<stop offset="1.000" stop-color="#800000"/>
</linearGradient>
</defs>
<rect x="327.2" y="1677.8" width="470.2" height="32.4" fill="url(#fr0)"/>
<rect x="327.2" y="1709.8" width="470.2" height="30.3" fill="url(#fr1)"/>
<rect x="327.2" y="1739.7" width="470.2" height="29.6" fill="url(#fr2)"/>
<rect x="327.2" y="1768.9" width="470.2" height="30.5" fill="url(#fr3)"/>
<rect x="327.2" y="1799.0" width="470.2" height="29.7" fill="url(#fr4)"/>
<rect x="327.2" y="1828.3" width="470.2" height="30.3" fill="url(#fr5)"/>
<rect x="327.2" y="1858.2" width="470.2" height="29.1" fill="url(#fr6)"/>
<rect x="327.2" y="1886.9" width="470.2" height="29.9" fill="url(#fr7)"/>
<rect x="327.2" y="1916.4" width="470.2" height="30.1" fill="url(#fr8)"/>
<rect x="327.2" y="1946.1" width="470.2" height="13.7" fill="url(#fr9)"/>
<path d="M335.2 1705.8H797.4M335.2 1733.5H797.4" stroke="#15154a" stroke-opacity=".55" stroke-width="1.6" stroke-dasharray="2 7.6" fill="none"/>
<path d="M328.2 1830.2L563 1958.5L796.4 1830.2" stroke="#000" stroke-width="3.6" stroke-dasharray="12.5 6.3" fill="none"/>
<path d="M427.9 1677.8v5M427.9 1959.4v-5M561.9 1677.8v5M561.9 1959.4v-5M696.8 1677.8v5M696.8 1959.4v-5M327.2 1818.3h5M797.4 1818.3h-5" stroke="#333" stroke-width="1.6" fill="none"/>
<rect x="327.2" y="1677.8" width="470.2" height="281.6" fill="none" stroke="#444" stroke-width="2"/>
<rect x="815.8" y="1677.8" width="27" height="281.6" fill="url(#jetbar)" stroke="#444" stroke-width="2"/>
<path d="M842.8 1758.5h-5M842.8 1858.2h-5" stroke="#333" stroke-width="1.6" fill="none"/>
</g>
<g id="texts">
<text x="103.0" y="57.0" font-size="64.0" textLength="64.4" lengthAdjust="spacingAndGlyphs">10</text>
<text x="171.1" y="34.9" font-size="46.7" textLength="30.8" lengthAdjust="spacingAndGlyphs">−</text>
<text x="204.7" y="30.0" font-size="44.5" textLength="22.2" lengthAdjust="spacingAndGlyphs">4</text>
<text x="96.7" y="396.0" font-size="64.0" textLength="65.3" lengthAdjust="spacingAndGlyphs">10</text>
<text x="164.6" y="372.5" font-size="47.2" textLength="32.6" lengthAdjust="spacingAndGlyphs">−</text>
<text x="196.9" y="369.5" font-size="45.0" textLength="24.6" lengthAdjust="spacingAndGlyphs">6</text>
<text x="99.1" y="735.4" font-size="64.0" textLength="65.3" lengthAdjust="spacingAndGlyphs">10</text>
<text x="166.4" y="712.6" font-size="47.2" textLength="33.3" lengthAdjust="spacingAndGlyphs">−</text>
<text x="200.3" y="709.7" font-size="45.0" textLength="23.7" lengthAdjust="spacingAndGlyphs">8</text>
<text x="99.4" y="790.5" font-size="64.0" textLength="65.6" lengthAdjust="spacingAndGlyphs">10</text>
<text x="167.5" y="767.7" font-size="46.2" textLength="33.3" lengthAdjust="spacingAndGlyphs">−</text>
<text x="202.6" y="764.0" font-size="44.0" textLength="21.2" lengthAdjust="spacingAndGlyphs">1</text>
<text x="95.0" y="1020.6" font-size="64.0" textLength="66.2" lengthAdjust="spacingAndGlyphs">10</text>
<text x="163.0" y="997.0" font-size="46.2" textLength="32.7" lengthAdjust="spacingAndGlyphs">−</text>
<text x="196.4" y="992.9" font-size="44.0" textLength="22.8" lengthAdjust="spacingAndGlyphs">2</text>
<text x="98.3" y="1246.8" font-size="64.0" textLength="64.4" lengthAdjust="spacingAndGlyphs">10</text>
<text x="166.2" y="1223.6" font-size="47.2" textLength="31.8" lengthAdjust="spacingAndGlyphs">−</text>
<text x="199.5" y="1220.8" font-size="45.0" textLength="22.0" lengthAdjust="spacingAndGlyphs">3</text>
<text x="95.9" y="1471.7" font-size="64.0" textLength="64.9" lengthAdjust="spacingAndGlyphs">10</text>
<text x="164.4" y="1449.1" font-size="46.7" textLength="32.1" lengthAdjust="spacingAndGlyphs">−</text>
<text x="198.2" y="1445.2" font-size="44.5" textLength="21.5" lengthAdjust="spacingAndGlyphs">4</text>
<g transform="translate(56.3,0) rotate(-90)">
<text class="i" x="-277.6" y="0.0" font-size="87.0" textLength="78.5" lengthAdjust="spacingAndGlyphs">W</text>
<text class="dv" x="-199.4" y="12.0" font-size="53.6" textLength="50.4" lengthAdjust="spacingAndGlyphs">ℱ</text>
</g>
<g transform="translate(62.7,0) rotate(-90)">
<text class="i" x="-1182.4" y="0.0" font-size="87.0" textLength="78.3" lengthAdjust="spacingAndGlyphs">W</text>
<text class="dv" x="-1101.8" y="11.9" font-size="54.5" textLength="39.1" lengthAdjust="spacingAndGlyphs">ℒ</text>
</g>
<text x="887.8" y="80.4" font-size="65.4" textLength="80.4" lengthAdjust="spacingAndGlyphs">(a)</text>
<text x="881.6" y="822.4" font-size="65.3" textLength="82.3" lengthAdjust="spacingAndGlyphs">(b)</text>
<text x="299.0" y="88.9" font-size="57.5" textLength="44.3" lengthAdjust="spacingAndGlyphs" fill="#0000ff">Δ</text>
<text class="i" x="348.6" y="88.9" font-size="58.0" textLength="42.2" lengthAdjust="spacingAndGlyphs" fill="#0000ff">N</text>
<text x="408.6" y="93.6" font-size="57.0" textLength="46.2" lengthAdjust="spacingAndGlyphs" fill="#0000ff">=</text>
<text x="467.6" y="88.9" font-size="56.5" textLength="99.6" lengthAdjust="spacingAndGlyphs" fill="#0000ff">0.05</text>
<text x="747.7" y="186.2" font-size="57.5" textLength="44.3" lengthAdjust="spacingAndGlyphs" fill="#000">Δ</text>
<text class="i" x="797.3" y="186.2" font-size="58.0" textLength="42.2" lengthAdjust="spacingAndGlyphs" fill="#000">N</text>
<text x="857.3" y="190.9" font-size="57.0" textLength="46.2" lengthAdjust="spacingAndGlyphs" fill="#000">=</text>
<text x="916.2" y="186.2" font-size="56.5" textLength="30.0" lengthAdjust="spacingAndGlyphs" fill="#000">0</text>
<text x="456.7" y="341.8" font-size="57.5" textLength="44.3" lengthAdjust="spacingAndGlyphs" fill="#ff0000">Δ</text>
<text class="i" x="506.3" y="341.8" font-size="58.0" textLength="42.2" lengthAdjust="spacingAndGlyphs" fill="#ff0000">N</text>
<text x="566.3" y="346.5" font-size="57.0" textLength="46.2" lengthAdjust="spacingAndGlyphs" fill="#ff0000">=</text>
<text x="625.3" y="341.8" font-size="56.5" textLength="128.5" lengthAdjust="spacingAndGlyphs" fill="#ff0000">0.025</text>
<text x="664.2" y="941.0" font-size="55.3" textLength="42.6" lengthAdjust="spacingAndGlyphs" fill="#000">Δ</text>
<text class="i" x="711.9" y="941.0" font-size="55.8" textLength="40.6" lengthAdjust="spacingAndGlyphs" fill="#000">N</text>
<text x="769.7" y="945.5" font-size="54.8" textLength="44.4" lengthAdjust="spacingAndGlyphs" fill="#000">=</text>
<text x="826.3" y="941.0" font-size="54.4" textLength="28.8" lengthAdjust="spacingAndGlyphs" fill="#000">0</text>
<text x="634.4" y="1118.7" font-size="57.5" textLength="44.3" lengthAdjust="spacingAndGlyphs" fill="#ff0000">Δ</text>
<text class="i" x="684.0" y="1118.7" font-size="58.0" textLength="42.2" lengthAdjust="spacingAndGlyphs" fill="#ff0000">N</text>
<text x="744.0" y="1123.4" font-size="57.0" textLength="46.2" lengthAdjust="spacingAndGlyphs" fill="#ff0000">=</text>
<text x="803.0" y="1118.7" font-size="56.5" textLength="128.5" lengthAdjust="spacingAndGlyphs" fill="#ff0000">0.025</text>
<text x="632.3" y="1315.6" font-size="57.5" textLength="44.3" lengthAdjust="spacingAndGlyphs" fill="#0000ff">Δ</text>
<text class="i" x="681.9" y="1315.6" font-size="58.0" textLength="42.2" lengthAdjust="spacingAndGlyphs" fill="#0000ff">N</text>
<text x="741.9" y="1320.3" font-size="57.0" textLength="46.2" lengthAdjust="spacingAndGlyphs" fill="#0000ff">=</text>
<text x="800.9" y="1315.6" font-size="56.5" textLength="99.6" lengthAdjust="spacingAndGlyphs" fill="#0000ff">0.05</text>
<text x="225.2" y="1510.2" font-size="55.5" textLength="30.0" lengthAdjust="spacingAndGlyphs">0</text>
<text x="430.4" y="1505.0" font-size="55.5" textLength="113.5" lengthAdjust="spacingAndGlyphs">5000</text>
<text x="652.1" y="1510.3" font-size="55.5" textLength="141.5" lengthAdjust="spacingAndGlyphs">10000</text>
<text x="897.2" y="1510.0" font-size="55.5" textLength="139.4" lengthAdjust="spacingAndGlyphs">15000</text>
<text class="i" x="558.8" y="1561.3" font-size="64.0" textLength="35.0" lengthAdjust="spacingAndGlyphs" stroke="#000" stroke-width="1.28">ω</text>
<text class="i" x="602.3" y="1571.8" font-size="43.0" textLength="20.4" lengthAdjust="spacingAndGlyphs" stroke="#000" stroke-width="0.58">p</text>
<text class="i" x="625.9" y="1561.6" font-size="70.9" textLength="20.2" lengthAdjust="spacingAndGlyphs">t</text>
<text class="i" x="1243.4" y="208.6" font-size="53.0" textLength="26.0" lengthAdjust="spacingAndGlyphs">δ</text>
<text class="i" x="1270.3" y="208.6" font-size="53.5" textLength="34.4" lengthAdjust="spacingAndGlyphs">n</text>
<text class="i" x="1303.1" y="216.6" font-size="37.0" textLength="13.5" lengthAdjust="spacingAndGlyphs">i</text>
<text x="1320.9" y="222.4" font-size="83.1" textLength="32.0" lengthAdjust="spacingAndGlyphs" stroke="#fff" stroke-width="2.16">/</text>
<text class="i" x="1345.4" y="208.6" font-size="53.5" textLength="37.6" lengthAdjust="spacingAndGlyphs">n</text>
<text x="1381.0" y="217.6" font-size="37.0" textLength="20.3" lengthAdjust="spacingAndGlyphs">0</text>
<text x="1413.5" y="208.6" font-size="62.0" textLength="22.3" lengthAdjust="spacingAndGlyphs">,</text>
<text class="i" x="1503.1" y="199.9" font-size="55.0" textLength="30.0" lengthAdjust="spacingAndGlyphs" stroke="#000" stroke-width="1.10">ω</text>
<text class="i" x="1540.5" y="209.0" font-size="37.0" textLength="17.5" lengthAdjust="spacingAndGlyphs" stroke="#000" stroke-width="0.50">p</text>
<text class="i" x="1560.7" y="200.2" font-size="61.0" textLength="17.4" lengthAdjust="spacingAndGlyphs">t</text>
<text x="1597.9" y="205.1" font-size="57.0" textLength="44.8" lengthAdjust="spacingAndGlyphs">=</text>
<text x="1656.5" y="200.2" font-size="55.0" textLength="111.5" lengthAdjust="spacingAndGlyphs">1700</text>
<text x="1101.0" y="361.6" font-size="56.5" textLength="112.1" lengthAdjust="spacingAndGlyphs">1200</text>
<text x="1129.9" y="540.3" font-size="56.5" textLength="83.1" lengthAdjust="spacingAndGlyphs">800</text>
<text x="1129.4" y="712.1" font-size="55.5" textLength="84.2" lengthAdjust="spacingAndGlyphs">400</text>
<text x="1183.4" y="889.3" font-size="55.5" textLength="30.8" lengthAdjust="spacingAndGlyphs">0</text>
<text x="1222.0" y="933.3" font-size="54.0" textLength="29.5" lengthAdjust="spacingAndGlyphs">0</text>
<text x="1406.6" y="933.3" font-size="54.0" textLength="84.8" lengthAdjust="spacingAndGlyphs">500</text>
<text x="1653.0" y="933.3" font-size="54.0" textLength="112.3" lengthAdjust="spacingAndGlyphs">1000</text>
<text class="i" x="1505.9" y="975.0" font-size="56.0" textLength="26.2" lengthAdjust="spacingAndGlyphs">x</text>
<text x="1537.9" y="987.5" font-size="82.2" textLength="22.7" lengthAdjust="spacingAndGlyphs" stroke="#fff" stroke-width="2.14">/</text>
<text class="i" x="1568.3" y="975.0" font-size="59.0" textLength="27.7" lengthAdjust="spacingAndGlyphs">λ</text>
<text class="i" x="1600.2" y="983.1" font-size="41.0" textLength="30.2" lengthAdjust="spacingAndGlyphs">D</text>
<g transform="translate(1072.5,0) rotate(-90)">
<text class="i" x="-568.3" y="0.0" font-size="54.5" textLength="21.9" lengthAdjust="spacingAndGlyphs">y</text>
<text x="-543.8" y="12.6" font-size="83.1" textLength="23.6" lengthAdjust="spacingAndGlyphs" stroke="#fff" stroke-width="2.16">/</text>
<text class="i" x="-513.9" y="0.0" font-size="55.4" textLength="28.0" lengthAdjust="spacingAndGlyphs">λ</text>
<text class="i" x="-481.9" y="8.3" font-size="42.0" textLength="30.0" lengthAdjust="spacingAndGlyphs">D</text>
</g>
<text x="1877.2" y="254.9" font-size="55.3" textLength="32.6" lengthAdjust="spacingAndGlyphs" stroke="#fff" stroke-width="1.11">×</text>
<text x="1910.0" y="247.8" font-size="43.5" textLength="45.4" lengthAdjust="spacingAndGlyphs">10</text>
<text x="1957.2" y="230.1" font-size="32.0" textLength="20.8" lengthAdjust="spacingAndGlyphs">−</text>
<text x="1975.5" y="229.6" font-size="29.5" textLength="20.8" lengthAdjust="spacingAndGlyphs">3</text>
<text x="1789.2" y="290.6" font-size="67.0" textLength="77.6" lengthAdjust="spacingAndGlyphs" fill="#fff">(c)</text>
<text class="i" x="1429.1" y="320.2" font-size="56.0" textLength="20.8" lengthAdjust="spacingAndGlyphs" fill="#fff">δ</text>
<text class="b" x="1453.2" y="320.2" font-size="56.0" textLength="35.8" lengthAdjust="spacingAndGlyphs" fill="#fff">n</text>
<text x="1505.7" y="331.9" font-size="80.0" textLength="46.8" lengthAdjust="spacingAndGlyphs" fill="#fff">&gt;</text>
<text class="b" x="1571.4" y="320.2" font-size="52.0" textLength="30.9" lengthAdjust="spacingAndGlyphs" fill="#fff">0</text>
<text class="i" x="1417.3" y="767.8" font-size="56.0" textLength="20.8" lengthAdjust="spacingAndGlyphs" fill="#fff">δ</text>
<text class="b" x="1441.4" y="767.8" font-size="56.0" textLength="35.8" lengthAdjust="spacingAndGlyphs" fill="#fff">n</text>
<text x="1493.9" y="779.5" font-size="80.0" textLength="46.8" lengthAdjust="spacingAndGlyphs" fill="#fff">&gt;</text>
<text class="b" x="1559.6" y="767.8" font-size="52.0" textLength="30.9" lengthAdjust="spacingAndGlyphs" fill="#fff">0</text>
<text x="1932.3" y="300.0" font-size="47.0">4</text>
<text x="1931.0" y="408.9" font-size="47.0">3</text>
<text x="1931.1" y="517.1" font-size="47.0">2</text>
<text x="1932.1" y="625.0" font-size="47.0">1</text>
<text x="1931.4" y="734.6" font-size="47.0">0</text>
<text x="1926.3" y="842.9" font-size="47.0" textLength="36.3" lengthAdjust="spacingAndGlyphs">-1</text>
<text x="1107.7" y="1074.4" font-size="44.0" textLength="81.8" lengthAdjust="spacingAndGlyphs">0.02</text>
<text x="1151.9" y="1226.4" font-size="44.0" textLength="39.5" lengthAdjust="spacingAndGlyphs">0.</text>
<text x="1088.0" y="1363.3" font-size="44.0" textLength="94.8" lengthAdjust="spacingAndGlyphs">-0.02</text>
<g transform="translate(1105.7,0) rotate(-90)">
<text class="i" x="-1269.3" y="0.0" font-size="42.7" textLength="21.0" lengthAdjust="spacingAndGlyphs">δ</text>
<text class="i" x="-1247.6" y="0.0" font-size="43.1" textLength="27.7" lengthAdjust="spacingAndGlyphs">n</text>
<text class="i" x="-1221.2" y="6.4" font-size="29.8" textLength="10.9" lengthAdjust="spacingAndGlyphs">i</text>
<text x="-1207.0" y="11.1" font-size="67.0" textLength="26.1" lengthAdjust="spacingAndGlyphs" stroke="#fff" stroke-width="1.74">/</text>
<text class="i" x="-1187.1" y="0.0" font-size="43.1" textLength="30.3" lengthAdjust="spacingAndGlyphs">n</text>
<text x="-1158.4" y="7.3" font-size="29.8" textLength="16.4" lengthAdjust="spacingAndGlyphs">0</text>
</g>
<text class="i" x="1477.0" y="1128.6" font-size="49.8" textLength="27.0" lengthAdjust="spacingAndGlyphs" stroke="#000" stroke-width="1.00">ω</text>
<text class="i" x="1510.8" y="1136.9" font-size="33.5" textLength="15.8" lengthAdjust="spacingAndGlyphs" stroke="#000" stroke-width="0.45">p</text>
<text class="i" x="1529.2" y="1128.9" font-size="55.2" textLength="15.7" lengthAdjust="spacingAndGlyphs">t</text>
<text x="1562.8" y="1133.3" font-size="51.6" textLength="40.6" lengthAdjust="spacingAndGlyphs">=</text>
<text x="1619.3" y="1128.9" font-size="49.8" textLength="101.8" lengthAdjust="spacingAndGlyphs">4700</text>
<text x="1881.3" y="1121.1" font-size="65.0" textLength="83.0" lengthAdjust="spacingAndGlyphs">(d)</text>
<text x="1197.3" y="1435.7" font-size="60.9" textLength="35.8" lengthAdjust="spacingAndGlyphs" stroke="#fff" stroke-width="1.22">×</text>
<text x="1234.1" y="1428.0" font-size="51.5" textLength="52.1" lengthAdjust="spacingAndGlyphs">10</text>
<text x="1288.3" y="1410.1" font-size="38.0" textLength="26.3" lengthAdjust="spacingAndGlyphs">−</text>
<text x="1315.2" y="1406.7" font-size="36.0" textLength="18.6" lengthAdjust="spacingAndGlyphs">3</text>
<text x="1135.1" y="1457.1" font-size="43.0">15</text>
<text x="1158.6" y="1573.9" font-size="43.0" textLength="24.0" lengthAdjust="spacingAndGlyphs">5</text>
<text x="1143.6" y="1703.5" font-size="43.0" textLength="37.8" lengthAdjust="spacingAndGlyphs">-5</text>
<g transform="translate(1125.0,0) rotate(-90)">
<text class="i" x="-1644.8" y="0.0" font-size="42.6" textLength="20.9" lengthAdjust="spacingAndGlyphs">δ</text>
<text class="i" x="-1623.1" y="0.0" font-size="43.0" textLength="27.6" lengthAdjust="spacingAndGlyphs">n</text>
<text class="i" x="-1596.8" y="6.4" font-size="29.7" textLength="10.8" lengthAdjust="spacingAndGlyphs">i</text>
<text x="-1582.7" y="11.1" font-size="66.7" textLength="26.0" lengthAdjust="spacingAndGlyphs" stroke="#fff" stroke-width="1.74">/</text>
<text class="i" x="-1562.9" y="0.0" font-size="43.0" textLength="30.2" lengthAdjust="spacingAndGlyphs">n</text>
<text x="-1534.3" y="7.2" font-size="29.7" textLength="16.3" lengthAdjust="spacingAndGlyphs">0</text>
</g>
<text x="1186.8" y="1778.6" font-size="44.0" textLength="24.5" lengthAdjust="spacingAndGlyphs">0</text>
<text x="1264.8" y="1778.6" font-size="44.0" textLength="69.7" lengthAdjust="spacingAndGlyphs">200</text>
<text x="1388.6" y="1778.6" font-size="44.0" textLength="68.6" lengthAdjust="spacingAndGlyphs">400</text>
<text x="1498.2" y="1778.6" font-size="44.0" textLength="68.7" lengthAdjust="spacingAndGlyphs">600</text>
<text x="1599.1" y="1778.6" font-size="44.0" textLength="68.6" lengthAdjust="spacingAndGlyphs">800</text>
<text x="1697.9" y="1778.6" font-size="44.0" textLength="90.3" lengthAdjust="spacingAndGlyphs">1000</text>
<text x="1805.1" y="1778.6" font-size="44.0" textLength="91.1" lengthAdjust="spacingAndGlyphs">1200</text>
<text x="1912.2" y="1778.6" font-size="44.0" textLength="91.0" lengthAdjust="spacingAndGlyphs">1400</text>
<text class="i" x="1562.5" y="1842.8" font-size="51.1" textLength="23.9" lengthAdjust="spacingAndGlyphs">x</text>
<text x="1591.6" y="1854.2" font-size="75.1" stroke="#fff" stroke-width="1.95">/</text>
<text class="i" x="1619.4" y="1842.8" font-size="53.9" textLength="25.3" lengthAdjust="spacingAndGlyphs">λ</text>
<text class="i" x="1648.5" y="1850.2" font-size="37.4" textLength="27.5" lengthAdjust="spacingAndGlyphs">D</text>
<text class="i" x="1455.9" y="1494.1" font-size="49.8" textLength="27.0" lengthAdjust="spacingAndGlyphs" stroke="#000" stroke-width="1.00">ω</text>
<text class="i" x="1489.7" y="1502.4" font-size="33.5" textLength="15.8" lengthAdjust="spacingAndGlyphs" stroke="#000" stroke-width="0.45">p</text>
<text class="i" x="1508.1" y="1494.4" font-size="55.2" textLength="15.7" lengthAdjust="spacingAndGlyphs">t</text>
<text x="1541.7" y="1498.8" font-size="51.6" textLength="40.6" lengthAdjust="spacingAndGlyphs">=</text>
<text x="1594.6" y="1494.4" font-size="49.8" textLength="129.8" lengthAdjust="spacingAndGlyphs">13400</text>
<text x="1901.2" y="1500.0" font-size="64.0" textLength="79.7" lengthAdjust="spacingAndGlyphs">(e)</text>
<text x="333.8" y="1667.3" font-size="66.3" textLength="38.8" lengthAdjust="spacingAndGlyphs" stroke="#fff" stroke-width="1.33">×</text>
<text x="373.3" y="1658.9" font-size="50.5" textLength="50.8" lengthAdjust="spacingAndGlyphs">10</text>
<text x="430.9" y="1638.1" font-size="38.0" textLength="27.0" lengthAdjust="spacingAndGlyphs">−</text>
<text x="458.6" y="1637.6" font-size="35.5" textLength="19.8" lengthAdjust="spacingAndGlyphs">2</text>
<text class="i" x="516.6" y="1650.0" font-size="52.8" textLength="28.7" lengthAdjust="spacingAndGlyphs" stroke="#000" stroke-width="1.06">ω</text>
<text class="i" x="552.5" y="1658.7" font-size="35.5" textLength="16.8" lengthAdjust="spacingAndGlyphs" stroke="#000" stroke-width="0.48">p</text>
<text class="i" x="572.0" y="1650.3" font-size="58.6" textLength="16.7" lengthAdjust="spacingAndGlyphs">t</text>
<text x="607.7" y="1655.0" font-size="54.7" textLength="43.0" lengthAdjust="spacingAndGlyphs">=</text>
<text x="665.4" y="1650.3" font-size="52.8" textLength="110.0" lengthAdjust="spacingAndGlyphs">5000</text>
<text x="804.8" y="1650.3" font-size="68.0" textLength="71.4" lengthAdjust="spacingAndGlyphs">(f)</text>
<text x="218.4" y="1698.7" font-size="52.5" textLength="98.7" lengthAdjust="spacingAndGlyphs">2.38</text>
<text x="211.4" y="1838.2" font-size="52.5" textLength="99.3" lengthAdjust="spacingAndGlyphs">1.19</text>
<text x="277.2" y="1981.1" font-size="53.0" textLength="31.3" lengthAdjust="spacingAndGlyphs">0</text>
<text x="386.0" y="2027.6" font-size="52.5" textLength="88.2" lengthAdjust="spacingAndGlyphs">-0.2</text>
<text x="549.8" y="2014.3" font-size="52.5" textLength="30.1" lengthAdjust="spacingAndGlyphs">0</text>
<text x="699.4" y="2014.3" font-size="52.5" textLength="73.1" lengthAdjust="spacingAndGlyphs">0.2</text>
<text x="866.7" y="1740.8" font-size="44.0" textLength="37.6" lengthAdjust="spacingAndGlyphs">1.</text>
<text x="866.0" y="1855.9" font-size="43.0" textLength="58.9" lengthAdjust="spacingAndGlyphs">0.5</text>
<text x="866.0" y="1965.6" font-size="43.0" textLength="23.5" lengthAdjust="spacingAndGlyphs">0</text>
<g transform="translate(185.7,0) rotate(-90)">
<text class="i" x="-1898.1" y="0.0" font-size="52.0" textLength="35.6" lengthAdjust="spacingAndGlyphs" stroke="#000" stroke-width="0.5">ω</text>
<text x="-1861.7" y="12.0" font-size="80.9" textLength="23.0" lengthAdjust="spacingAndGlyphs" stroke="#fff" stroke-width="2.10">/</text>
<text class="i" x="-1837.4" y="0.0" font-size="52.0" textLength="36.2" lengthAdjust="spacingAndGlyphs" stroke="#000" stroke-width="0.5">ω</text>
<text class="i" x="-1801.0" y="7.5" font-size="36.5" textLength="19.9" lengthAdjust="spacingAndGlyphs">p</text>
</g>
<text class="i" x="505.0" y="2065.6" font-size="54.0" textLength="23.4" lengthAdjust="spacingAndGlyphs">k</text>
<text class="i" x="535.5" y="2074.6" font-size="38.0" textLength="17.8" lengthAdjust="spacingAndGlyphs">x</text>
<text class="i" x="562.0" y="2065.6" font-size="53.5" textLength="27.5" lengthAdjust="spacingAndGlyphs">λ</text>
<text class="i" x="593.2" y="2074.6" font-size="40.6">D</text>
</g>
</svg></body></html>
